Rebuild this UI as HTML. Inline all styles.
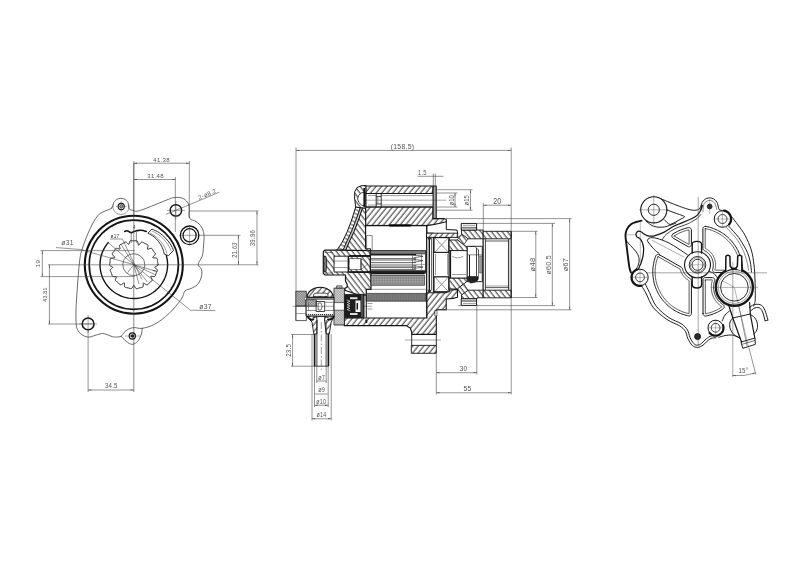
<!DOCTYPE html>
<html><head><meta charset="utf-8"><title>Vacuum pump drawing</title>
<style>
html,body{margin:0;padding:0;background:#fff;}
body{width:800px;height:568px;overflow:hidden;}
svg{display:block;font-family:"Liberation Sans",sans-serif;filter:grayscale(1);}
</style></head><body>
<svg width="800" height="568" viewBox="0 0 800 568">
<defs>
<pattern id="hA" width="4.3" height="4.3" patternUnits="userSpaceOnUse" patternTransform="rotate(39)"><line x1="1" y1="0" x2="1" y2="4.3" stroke="#262626" stroke-width="0.95"/></pattern>
<pattern id="hB" width="4.2" height="4.2" patternUnits="userSpaceOnUse" patternTransform="rotate(-38)"><line x1="1" y1="0" x2="1" y2="4.2" stroke="#262626" stroke-width="0.95"/></pattern>
<pattern id="hC" width="2" height="2" patternUnits="userSpaceOnUse" patternTransform="rotate(45)"><line x1="0" y1="0" x2="0" y2="2" stroke="#333" stroke-width="0.6"/></pattern>
<pattern id="hG" width="1.6" height="1.6" patternUnits="userSpaceOnUse"><rect width="1.6" height="1.6" fill="#a6a6a6"/><line x1="0" y1="0" x2="0" y2="1.6" stroke="#666" stroke-width="0.5"/><line x1="0" y1="0" x2="1.6" y2="0" stroke="#666" stroke-width="0.5"/></pattern>
<pattern id="hK" width="1.8" height="1.8" patternUnits="userSpaceOnUse" patternTransform="rotate(45)"><rect width="1.8" height="1.8" fill="#e4e4e4"/><line x1="0" y1="0" x2="0" y2="1.8" stroke="#555" stroke-width="0.55"/><line x1="0" y1="0" x2="1.8" y2="0" stroke="#555" stroke-width="0.55"/></pattern>
<pattern id="hG2" width="1.6" height="1.6" patternUnits="userSpaceOnUse"><rect width="1.6" height="1.6" fill="#7c7c7c"/><line x1="0" y1="0" x2="0" y2="1.6" stroke="#5a5a5a" stroke-width="0.5"/></pattern>
<pattern id="hL" width="3.8" height="3.8" patternUnits="userSpaceOnUse" patternTransform="rotate(-62)"><line x1="1" y1="0" x2="1" y2="3.8" stroke="#222" stroke-width="0.85"/></pattern>
<pattern id="hK2" width="1.8" height="1.8" patternUnits="userSpaceOnUse" patternTransform="rotate(45)"><rect width="1.8" height="1.8" fill="#c4c4c4"/><line x1="0" y1="0" x2="0" y2="1.8" stroke="#444" stroke-width="0.6"/><line x1="0" y1="0" x2="1.8" y2="0" stroke="#444" stroke-width="0.6"/></pattern>
</defs>
<rect x="0" y="0" width="800" height="568" fill="#ffffff"/>
<path d="M142.30 328.30 C142.18 329.08 141.93 331.52 141.60 333.00 C141.27 334.48 140.98 335.78 140.30 337.20 C139.62 338.62 138.67 340.33 137.50 341.50 C136.33 342.67 134.63 343.85 133.30 344.20 C131.97 344.55 130.68 344.10 129.50 343.60 C128.32 343.10 127.28 342.07 126.20 341.20 C125.12 340.33 123.83 339.23 123.00 338.40 C122.17 337.57 121.50 336.57 121.20 336.20" stroke="#3a3a3a" stroke-width="0.75" fill="none" stroke-linejoin="round" stroke-linecap="round" />
<path d="M111.50 208.20 C113.28 206.58 113.08 203.99 113.72 202.65 C114.36 201.30 114.45 201.44 115.00 200.86 C115.54 200.27 116.02 199.89 116.70 199.47 C117.39 199.06 117.95 198.81 118.72 198.60 C119.49 198.38 120.10 198.30 120.90 198.30 C121.70 198.30 122.31 198.38 123.08 198.60 C123.85 198.81 124.41 199.06 125.10 199.47 C125.78 199.89 126.26 200.27 126.80 200.86 C127.35 201.44 127.62 201.17 128.08 202.65 C128.54 204.12 128.38 207.50 129.30 208.90 C130.22 210.30 131.08 210.03 133.10 210.30 C135.12 210.58 133.81 212.42 140.30 210.40 C146.79 208.38 162.32 201.65 168.50 199.30 C174.68 196.95 171.71 197.88 174.00 197.60 C176.29 197.32 178.71 197.18 181.00 197.80 C183.29 198.42 185.00 199.31 186.50 201.00 C188.00 202.69 188.65 203.88 189.20 207.00 C189.75 210.12 188.25 215.34 189.50 218.00 C190.75 220.66 193.80 219.85 196.00 221.50 C198.20 223.15 200.03 224.53 201.50 227.00 C202.97 229.47 203.63 231.52 204.00 235.00 C204.37 238.48 203.81 242.15 203.50 246.00 C203.19 249.85 203.27 252.65 202.30 256.00 C201.33 259.36 198.35 261.82 198.20 264.30 C198.05 266.78 200.93 267.17 201.50 269.50 C202.07 271.83 202.03 274.25 201.30 277.00 C200.57 279.75 199.39 282.39 197.50 284.50 C195.61 286.61 193.29 287.31 191.00 288.50 C188.71 289.69 186.83 288.98 185.00 291.00 C183.17 293.02 183.93 295.38 181.00 299.50 C178.07 303.62 173.77 309.01 169.00 313.50 C164.23 317.99 159.90 321.29 155.00 324.00 C150.10 326.71 146.09 327.64 142.30 328.30 C138.51 328.96 136.89 327.44 134.30 327.60 C131.72 327.77 130.09 328.28 128.20 329.20 C126.31 330.12 125.28 331.32 124.00 332.60 C122.72 333.88 122.58 335.39 121.20 336.20 C119.83 337.01 118.15 336.93 116.50 337.00 C114.85 337.07 114.47 337.21 112.20 336.60 C109.93 336.00 106.52 334.14 104.10 333.70 C101.68 333.26 100.65 333.89 99.00 334.20 C97.35 334.51 97.10 334.87 95.10 335.40 C93.10 335.93 90.59 337.28 88.10 337.10 C85.61 336.92 83.44 335.79 81.50 334.40 C79.56 333.01 78.47 331.41 77.50 329.50 C76.53 327.59 76.48 327.57 76.20 324.00 C75.92 320.43 75.82 316.23 76.00 310.00 C76.18 303.77 76.56 298.80 77.20 290.00 C77.84 281.20 78.53 269.70 79.50 262.00 C80.47 254.30 80.58 254.05 82.50 248.00 C84.42 241.95 87.25 234.87 90.00 229.00 C92.75 223.13 94.93 219.21 97.50 216.00 C100.07 212.79 101.43 212.93 104.00 211.50 C106.57 210.07 109.72 209.82 111.50 208.20 Z" stroke="#3a3a3a" stroke-width="0.75" fill="none" stroke-linejoin="round" stroke-linecap="round" />
<path d="M128.88 204.99 C128.88 205.46 129.04 206.90 128.88 207.81 C128.72 208.72 128.38 209.65 127.91 210.45 C127.45 211.25 126.81 212.01 126.11 212.60 C125.40 213.20 124.54 213.70 123.67 214.01 C122.80 214.33 121.82 214.50 120.90 214.50 C119.98 214.50 119.00 214.33 118.13 214.01 C117.26 213.70 116.40 213.20 115.69 212.60 C114.99 212.01 114.35 211.25 113.89 210.45 C113.42 209.65 113.08 208.72 112.92 207.81 C112.76 206.90 112.92 205.46 112.92 204.99" stroke="#555" stroke-width="0.6" fill="none" stroke-linejoin="round" stroke-linecap="round" />
<circle cx="133.80" cy="264.70" r="49.00" stroke="#151515" stroke-width="2.1" fill="none"/>
<circle cx="133.80" cy="264.70" r="44.60" stroke="#151515" stroke-width="1.7" fill="none"/>
<path d="M108.21 242.61 L106.76 244.42 L105.43 246.33 L104.23 248.32 L103.18 250.39 L102.27 252.53 L101.50 254.73 L100.90 256.97 L100.44 259.25 L100.15 261.56 L100.01 263.88 L100.03 266.20 L100.22 268.52 L100.56 270.82 L101.06 273.09 L101.71 275.32 L102.52 277.50 L103.47 279.62 L104.57 281.66 L105.80 283.63 L107.17 285.51 L108.66 287.29 L110.27 288.97 L112.00 290.53 L113.82 291.96 L115.74 293.27 L117.75 294.45 L119.83 295.48 L121.98 296.37 L124.18 297.10 L126.43 297.69 L128.72 298.12 L131.03 298.39 L133.35 298.50 L135.67 298.45 L137.99 298.24 L140.28 297.87 L142.55 297.35 L144.77 296.67 L146.94 295.84 L149.05 294.86 L151.09 293.75 L153.04 292.49 L154.91 291.10 L156.67 289.59 L158.33 287.96 L159.87 286.22 L161.28 284.37 L162.57 282.44 L163.72 280.42 L164.73 278.33 L165.59 276.17 L166.31 273.96 L166.87 271.70 L167.27 269.41 L167.51 267.10 L167.60 264.78 L167.53 262.46 L167.29 260.14 L166.90 257.85 L166.35 255.59" stroke="#151515" stroke-width="1.4" fill="none" stroke-linejoin="round" stroke-linecap="round" />
<path d="M152.30 229.20 C153.50 229.80 157.28 231.30 159.50 232.80 C161.72 234.30 163.80 236.33 165.60 238.20 C167.40 240.07 168.97 241.97 170.30 244.00 C171.63 246.03 173.05 249.33 173.60 250.40 L168.6 255.6 L164.4 254.3 164.40 254.30 C164.05 253.18 163.23 249.68 162.30 247.60 C161.37 245.52 160.18 243.60 158.80 241.80 C157.42 240.00 155.75 238.20 154.00 236.80 C152.25 235.40 149.25 233.97 148.30 233.40 Z" stroke="#151515" stroke-width="0.9" fill="none" stroke-linejoin="round" stroke-linecap="round" />
<path d="M152.60 231.30 C153.60 231.85 156.70 233.23 158.60 234.60 C160.50 235.97 162.40 237.77 164.00 239.50 C165.60 241.23 167.00 243.12 168.20 245.00 C169.40 246.88 170.70 249.83 171.20 250.80" stroke="#3a3a3a" stroke-width="0.5" fill="none" stroke-linejoin="round" stroke-linecap="round" />
<path d="M150.20 233.20 C151.10 233.75 153.87 235.15 155.60 236.50 C157.33 237.85 159.12 239.55 160.60 241.30 C162.08 243.05 163.47 245.02 164.50 247.00 C165.53 248.98 166.42 252.17 166.80 253.20" stroke="#3a3a3a" stroke-width="0.5" fill="none" stroke-linejoin="round" stroke-linecap="round" />
<path d="M158.04 264.70 L158.01 264.91 L157.93 265.12 L157.81 265.33 L157.63 265.53 L157.39 265.73 L157.09 265.92 L156.73 266.10 L156.34 266.28 L155.93 266.44 L155.53 266.60 L155.18 266.76 L154.90 266.92 L154.72 267.08 L154.66 267.26 L154.71 267.45 L154.88 267.66 L155.14 267.89 L155.46 268.13 L155.81 268.38 L156.17 268.64 L156.50 268.91 L156.78 269.17 L157.01 269.42 L157.18 269.67 L157.29 269.91 L157.34 270.14 L157.35 270.35 L157.32 270.57 L157.27 270.77 L157.19 270.97 L157.11 271.16 L157.01 271.36 L156.92 271.55 L156.82 271.74 L156.72 271.93 L156.62 272.11 L156.53 272.30 L156.44 272.49 L156.35 272.68 L156.27 272.88 L156.19 273.07 L156.11 273.27 L156.04 273.46 L155.98 273.66 L155.92 273.86 L155.86 274.06 L155.80 274.27 L155.75 274.47 L155.70 274.68 L155.65 274.89 L155.59 275.09 L155.53 275.30 L155.47 275.50 L155.39 275.70 L155.29 275.89 L155.17 276.06 L155.01 276.22 L154.81 276.35 L154.56 276.45 L154.25 276.51 L153.89 276.54 L153.48 276.52 L153.03 276.48 L152.56 276.42 L152.09 276.35 L151.66 276.30 L151.29 276.27 L151.00 276.30 L150.82 276.40 L150.75 276.57 L150.78 276.81 L150.90 277.12 L151.08 277.49 L151.30 277.89 L151.53 278.31 L151.75 278.72 L151.92 279.12 L152.05 279.48 L152.13 279.81 L152.15 280.10 L152.12 280.35 L152.05 280.56 L151.94 280.75 L151.81 280.92 L151.66 281.07 L151.50 281.20 L151.33 281.33 L151.15 281.46 L150.98 281.58 L150.80 281.70 L150.63 281.82 L150.45 281.95 L150.28 282.07 L150.12 282.20 L149.95 282.33 L149.79 282.46 L149.64 282.60 L149.48 282.74 L149.33 282.88 L149.18 283.03 L149.04 283.18 L148.89 283.34 L148.75 283.49 L148.61 283.65 L148.46 283.81 L148.32 283.97 L148.18 284.13 L148.03 284.28 L147.87 284.43 L147.70 284.56 L147.52 284.67 L147.32 284.75 L147.10 284.79 L146.85 284.79 L146.57 284.74 L146.25 284.63 L145.91 284.47 L145.55 284.25 L145.17 284.01 L144.80 283.75 L144.44 283.50 L144.11 283.30 L143.83 283.17 L143.60 283.14 L143.43 283.21 L143.32 283.39 L143.26 283.68 L143.23 284.04 L143.23 284.47 L143.23 284.92 L143.22 285.38 L143.20 285.80 L143.14 286.19 L143.06 286.52 L142.95 286.80 L142.82 287.02 L142.66 287.19 L142.48 287.31 L142.29 287.40 L142.09 287.47 L141.88 287.52 L141.67 287.56 L141.46 287.59 L141.25 287.62 L141.03 287.64 L140.82 287.67 L140.61 287.70 L140.40 287.73 L140.20 287.76 L139.99 287.80 L139.79 287.84 L139.58 287.89 L139.38 287.94 L139.18 288.00 L138.98 288.06 L138.78 288.12 L138.58 288.19 L138.38 288.26 L138.18 288.33 L137.98 288.41 L137.78 288.48 L137.58 288.56 L137.38 288.62 L137.17 288.68 L136.96 288.72 L136.75 288.74 L136.54 288.73 L136.32 288.68 L136.10 288.57 L135.87 288.40 L135.65 288.16 L135.42 287.86 L135.19 287.49 L134.97 287.08 L134.76 286.65 L134.55 286.22 L134.35 285.84 L134.16 285.54 L133.98 285.34 L133.80 285.28 L133.62 285.34 L133.44 285.54 L133.25 285.84 L133.05 286.22 L132.84 286.65 L132.63 287.08 L132.41 287.49 L132.18 287.86 L131.95 288.16 L131.73 288.40 L131.50 288.57 L131.28 288.68 L131.06 288.73 L130.85 288.74 L130.64 288.72 L130.43 288.68 L130.22 288.62 L130.02 288.56 L129.82 288.48 L129.62 288.41 L129.42 288.33 L129.22 288.26 L129.02 288.19 L128.82 288.12 L128.62 288.06 L128.42 288.00 L128.22 287.94 L128.02 287.89 L127.81 287.84 L127.61 287.80 L127.40 287.76 L127.20 287.73 L126.99 287.70 L126.78 287.67 L126.57 287.64 L126.35 287.62 L126.14 287.59 L125.93 287.56 L125.72 287.52 L125.51 287.47 L125.31 287.40 L125.13 287.30 L124.95 287.16 L124.80 286.98 L124.67 286.75 L124.56 286.46 L124.49 286.10 L124.45 285.69 L124.44 285.23 L124.45 284.75 L124.47 284.27 L124.48 283.82 L124.46 283.43 L124.41 283.13 L124.31 282.94 L124.14 282.87 L123.91 282.91 L123.62 283.06 L123.28 283.29 L122.91 283.56 L122.52 283.85 L122.13 284.13 L121.75 284.37 L121.39 284.56 L121.07 284.69 L120.78 284.75 L120.52 284.77 L120.29 284.73 L120.09 284.66 L119.90 284.55 L119.73 284.42 L119.57 284.28 L119.42 284.13 L119.28 283.97 L119.14 283.81 L118.99 283.65 L118.85 283.49 L118.71 283.34 L118.56 283.18 L118.42 283.03 L118.27 282.88 L118.12 282.74 L117.96 282.60 L117.81 282.46 L117.65 282.33 L117.48 282.20 L117.32 282.07 L117.15 281.95 L116.97 281.82 L116.80 281.70 L116.62 281.58 L116.45 281.46 L116.27 281.33 L116.10 281.21 L115.93 281.07 L115.78 280.93 L115.64 280.77 L115.52 280.59 L115.44 280.38 L115.39 280.15 L115.38 279.88 L115.42 279.58 L115.51 279.25 L115.64 278.89 L115.81 278.51 L115.98 278.13 L116.15 277.76 L116.29 277.42 L116.38 277.13 L116.39 276.89 L116.31 276.72 L116.13 276.62 L115.87 276.57 L115.54 276.56 L115.15 276.58 L114.74 276.61 L114.32 276.64 L113.91 276.65 L113.55 276.63 L113.22 276.58 L112.95 276.50 L112.73 276.38 L112.55 276.24 L112.40 276.08 L112.29 275.90 L112.20 275.71 L112.12 275.51 L112.06 275.30 L112.01 275.10 L111.95 274.89 L111.90 274.68 L111.85 274.47 L111.80 274.27 L111.74 274.06 L111.68 273.86 L111.62 273.66 L111.56 273.46 L111.49 273.27 L111.41 273.07 L111.33 272.88 L111.25 272.68 L111.16 272.49 L111.07 272.30 L110.98 272.11 L110.88 271.93 L110.78 271.74 L110.68 271.55 L110.59 271.36 L110.49 271.16 L110.40 270.97 L110.33 270.77 L110.27 270.57 L110.23 270.36 L110.23 270.14 L110.28 269.91 L110.37 269.68 L110.52 269.44 L110.73 269.18 L110.99 268.93 L111.29 268.67 L111.62 268.41 L111.94 268.16 L112.24 267.92 L112.47 267.70 L112.62 267.49 L112.67 267.29 L112.61 267.11 L112.45 266.94 L112.19 266.78 L111.86 266.62 L111.49 266.46 L111.11 266.29 L110.74 266.11 L110.42 265.93 L110.14 265.73 L109.92 265.53 L109.75 265.33 L109.64 265.12 L109.58 264.91 L109.55 264.70 L109.55 264.49 L109.57 264.28 L109.61 264.07 L109.65 263.86 L109.70 263.65 L109.75 263.44 L109.80 263.23 L109.85 263.03 L109.90 262.82 L109.94 262.61 L109.98 262.41 L110.02 262.20 L110.05 261.99 L110.08 261.79 L110.10 261.58 L110.12 261.37 L110.13 261.16 L110.14 260.95 L110.15 260.74 L110.15 260.53 L110.15 260.32 L110.15 260.10 L110.15 259.89 L110.16 259.67 L110.17 259.46 L110.20 259.25 L110.25 259.05 L110.32 258.85 L110.43 258.66 L110.59 258.48 L110.81 258.32 L111.09 258.19 L111.45 258.08 L111.86 257.99 L112.33 257.93 L112.84 257.89 L113.35 257.86 L113.83 257.82 L114.25 257.78 L114.57 257.70 L114.77 257.59 L114.84 257.42 L114.77 257.21 L114.59 256.94 L114.32 256.63 L113.98 256.29 L113.62 255.93 L113.27 255.56 L112.96 255.20 L112.69 254.86 L112.50 254.54 L112.37 254.25 L112.31 253.98 L112.30 253.75 L112.34 253.53 L112.41 253.33 L112.51 253.14 L112.63 252.97 L112.76 252.80 L112.90 252.63 L113.04 252.47 L113.18 252.31 L113.32 252.15 L113.46 251.99 L113.60 251.83 L113.73 251.67 L113.86 251.50 L113.98 251.33 L114.10 251.16 L114.22 250.99 L114.33 250.82 L114.44 250.64 L114.55 250.46 L114.66 250.27 L114.76 250.09 L114.86 249.90 L114.96 249.71 L115.06 249.52 L115.16 249.33 L115.27 249.15 L115.38 248.97 L115.50 248.80 L115.65 248.64 L115.81 248.50 L116.00 248.39 L116.23 248.31 L116.50 248.28 L116.81 248.29 L117.16 248.34 L117.54 248.44 L117.95 248.57 L118.37 248.72 L118.78 248.87 L119.15 248.99 L119.47 249.06 L119.72 249.06 L119.89 248.98 L119.98 248.81 L120.00 248.54 L119.96 248.21 L119.88 247.82 L119.78 247.39 L119.69 246.96 L119.61 246.54 L119.57 246.15 L119.56 245.80 L119.59 245.50 L119.67 245.25 L119.77 245.04 L119.91 244.86 L120.07 244.72 L120.24 244.60 L120.43 244.50 L120.63 244.41 L120.82 244.33 L121.02 244.25 L121.22 244.18 L121.42 244.10 L121.62 244.02 L121.82 243.94 L122.01 243.86 L122.20 243.78 L122.39 243.69 L122.58 243.60 L122.76 243.50 L122.95 243.40 L123.13 243.29 L123.31 243.19 L123.48 243.07 L123.66 242.96 L123.84 242.84 L124.01 242.72 L124.19 242.60 L124.37 242.48 L124.55 242.36 L124.73 242.25 L124.92 242.15 L125.11 242.07 L125.32 242.01 L125.53 241.98 L125.76 242.00 L126.01 242.07 L126.27 242.20 L126.55 242.39 L126.84 242.63 L127.14 242.92 L127.44 243.24 L127.74 243.56 L128.02 243.86 L128.28 244.10 L128.51 244.25 L128.71 244.30 L128.89 244.23 L129.03 244.05 L129.16 243.77 L129.28 243.41 L129.39 243.00 L129.50 242.58 L129.62 242.16 L129.76 241.78 L129.91 241.45 L130.07 241.18 L130.25 240.97 L130.44 240.81 L130.64 240.71 L130.85 240.64 L131.06 240.61 L131.27 240.60 L131.48 240.61 L131.69 240.62 L131.91 240.65 L132.12 240.67 L132.33 240.70 L132.54 240.72 L132.75 240.75 L132.96 240.76 L133.17 240.78 L133.38 240.79 L133.59 240.80 L133.80 240.80 L134.01 240.80 L134.22 240.79 L134.43 240.78 L134.64 240.76 L134.85 240.75 L135.06 240.72 L135.27 240.70 L135.48 240.67 L135.69 240.65 L135.91 240.63 L136.12 240.62 L136.33 240.62 L136.54 240.64 L136.75 240.68 L136.95 240.77 L137.14 240.91 L137.33 241.10 L137.50 241.37 L137.65 241.71 L137.78 242.12 L137.90 242.59 L138.00 243.10 L138.09 243.63 L138.17 244.12 L138.26 244.56 L138.37 244.90 L138.50 245.11 L138.67 245.18 L138.87 245.11 L139.10 244.90 L139.38 244.59 L139.68 244.21 L139.99 243.79 L140.32 243.37 L140.65 242.99 L140.96 242.66 L141.26 242.40 L141.54 242.22 L141.80 242.10 L142.04 242.05 L142.27 242.05 L142.48 242.09 L142.68 242.17 L142.87 242.26 L143.05 242.36 L143.23 242.48 L143.41 242.60 L143.59 242.72 L143.76 242.84 L143.94 242.96 L144.12 243.07 L144.29 243.19 L144.47 243.29 L144.65 243.40 L144.84 243.50 L145.02 243.60 L145.21 243.69 L145.40 243.78 L145.59 243.86 L145.78 243.94 L145.98 244.02 L146.18 244.10 L146.38 244.18 L146.58 244.25 L146.78 244.33 L146.97 244.41 L147.17 244.50 L147.35 244.61 L147.53 244.73 L147.68 244.88 L147.81 245.05 L147.91 245.27 L147.98 245.54 L148.00 245.85 L147.98 246.22 L147.92 246.63 L147.83 247.07 L147.71 247.52 L147.60 247.96 L147.50 248.37 L147.45 248.72 L147.45 248.99 L147.54 249.17 L147.71 249.25 L147.97 249.24 L148.30 249.15 L148.69 249.01 L149.11 248.84 L149.55 248.67 L149.98 248.52 L150.38 248.41 L150.75 248.34 L151.07 248.31 L151.35 248.34 L151.58 248.41 L151.78 248.51 L151.95 248.64 L152.09 248.80 L152.22 248.97 L152.33 249.15 L152.44 249.33 L152.54 249.52 L152.64 249.71 L152.74 249.90 L152.84 250.09 L152.94 250.27 L153.05 250.46 L153.16 250.64 L153.27 250.82 L153.38 250.99 L153.50 251.16 L153.62 251.33 L153.74 251.50 L153.87 251.67 L154.00 251.83 L154.14 251.99 L154.28 252.15 L154.42 252.31 L154.56 252.47 L154.70 252.63 L154.84 252.80 L154.97 252.97 L155.09 253.14 L155.19 253.33 L155.26 253.53 L155.30 253.75 L155.29 253.98 L155.23 254.25 L155.10 254.54 L154.91 254.86 L154.65 255.20 L154.33 255.56 L153.98 255.93 L153.62 256.29 L153.28 256.63 L153.01 256.94 L152.83 257.21 L152.76 257.42 L152.83 257.58 L153.03 257.70 L153.35 257.78 L153.77 257.82 L154.25 257.86 L154.76 257.89 L155.27 257.93 L155.74 257.99 L156.15 258.08 L156.51 258.19 L156.79 258.32 L157.01 258.48 L157.17 258.66 L157.28 258.85 L157.35 259.05 L157.40 259.25 L157.43 259.46 L157.44 259.67 L157.45 259.89 L157.45 260.10 L157.45 260.32 L157.45 260.53 L157.45 260.74 L157.46 260.95 L157.47 261.16 L157.48 261.37 L157.50 261.58 L157.52 261.79 L157.55 261.99 L157.58 262.20 L157.62 262.41 L157.66 262.61 L157.70 262.82 L157.75 263.03 L157.80 263.23 L157.85 263.44 L157.90 263.65 L157.95 263.86 L157.99 264.07 L158.02 264.28 L158.04 264.49 Z" stroke="#151515" stroke-width="1.0" fill="none" stroke-linejoin="round" stroke-linecap="round" />
<circle cx="133.80" cy="264.70" r="11.00" stroke="#3a3a3a" stroke-width="0.7" fill="none"/>
<path d="M124.8 231.5 q2 -1.5 4 0 q2 2 4.5 0.3 l4 -1.2 q4 -1 9 0.8" stroke="#151515" stroke-width="1.6" fill="none" stroke-linejoin="round" stroke-linecap="round" />
<line x1="131.20" y1="231.80" x2="131.20" y2="243.00" stroke="#3a3a3a" stroke-width="0.6" />
<line x1="136.40" y1="231.80" x2="136.40" y2="243.00" stroke="#3a3a3a" stroke-width="0.6" />
<text transform="translate(134.30 228.50)" x="0" y="0" font-size="4.5" fill="#555" text-anchor="middle" letter-spacing="0.3" >4</text>
<line x1="40.60" y1="250.60" x2="134.80" y2="250.60" stroke="#3a3a3a" stroke-width="0.55" />
<line x1="48.00" y1="264.80" x2="258.50" y2="264.80" stroke="#3a3a3a" stroke-width="0.55" />
<line x1="40.60" y1="276.60" x2="134.80" y2="276.60" stroke="#3a3a3a" stroke-width="0.55" />
<line x1="133.80" y1="163.00" x2="133.80" y2="392.00" stroke="#3a3a3a" stroke-width="0.6" />
<path d="M56.40 247.60 L80.70 249.50 L133.80 264.70 L157.00 271.50" stroke="#3a3a3a" stroke-width="0.55" fill="none" stroke-linejoin="round" stroke-linecap="round" />
<path d="M157.00 271.50 L152.99 270.97 L153.32 269.82 Z" fill="#3a3a3a" stroke="none"/>
<text transform="translate(67.50 245.00) scale(0.85 1)" x="0" y="0" font-size="8" fill="#555" text-anchor="middle" letter-spacing="0.3" >ø31</text>
<path d="M108.20 242.60 L133.80 264.70 L190.50 310.20 L215.00 310.60" stroke="#3a3a3a" stroke-width="0.55" fill="none" stroke-linejoin="round" stroke-linecap="round" />
<text transform="translate(205.60 309.20) scale(0.85 1)" x="0" y="0" font-size="8" fill="#555" text-anchor="middle" letter-spacing="0.3" >ø37</text>
<path d="M110.50 239.00 L122.40 239.00 L141.60 279.00" stroke="#3a3a3a" stroke-width="0.55" fill="none" stroke-linejoin="round" stroke-linecap="round" />
<text transform="translate(115.00 238.00)" x="0" y="0" font-size="4.6" fill="#333" text-anchor="middle" letter-spacing="0.3" >ø17</text>
<line x1="133.80" y1="264.70" x2="147.34" y2="282.04" stroke="#3a3a3a" stroke-width="0.55" />
<line x1="133.80" y1="264.70" x2="138.98" y2="284.02" stroke="#3a3a3a" stroke-width="0.55" />
<line x1="133.80" y1="264.70" x2="121.08" y2="244.35" stroke="#3a3a3a" stroke-width="0.55" />
<line x1="133.80" y1="264.70" x2="155.55" y2="274.84" stroke="#3a3a3a" stroke-width="0.55" />
<line x1="133.80" y1="264.70" x2="127.64" y2="272.58" stroke="#3a3a3a" stroke-width="0.55" />
<circle cx="121.20" cy="206.50" r="3.10" stroke="#151515" stroke-width="1.1" fill="none"/>
<circle cx="121.20" cy="206.50" r="1.50" stroke="#151515" stroke-width="0.8" fill="none"/>
<line x1="121.20" y1="201.00" x2="121.20" y2="212.00" stroke="#3a3a3a" stroke-width="0.4" />
<line x1="116.00" y1="206.50" x2="126.50" y2="206.50" stroke="#3a3a3a" stroke-width="0.4" />
<circle cx="175.90" cy="210.40" r="5.70" stroke="#151515" stroke-width="1.4" fill="none"/>
<line x1="166.90" y1="210.40" x2="184.90" y2="210.40" stroke="#3a3a3a" stroke-width="0.45" />
<line x1="175.90" y1="201.40" x2="175.90" y2="219.40" stroke="#3a3a3a" stroke-width="0.45" />
<circle cx="189.60" cy="235.30" r="9.30" stroke="#151515" stroke-width="1.4" fill="none"/>
<circle cx="189.60" cy="235.30" r="6.60" stroke="#151515" stroke-width="1.3" fill="none"/>
<line x1="180.60" y1="235.30" x2="198.60" y2="235.30" stroke="#3a3a3a" stroke-width="0.45" />
<line x1="189.60" y1="226.30" x2="189.60" y2="244.30" stroke="#3a3a3a" stroke-width="0.45" />
<circle cx="88.10" cy="323.90" r="5.90" stroke="#151515" stroke-width="1.5" fill="none"/>
<line x1="79.10" y1="323.90" x2="97.10" y2="323.90" stroke="#3a3a3a" stroke-width="0.45" />
<line x1="88.10" y1="314.90" x2="88.10" y2="332.90" stroke="#3a3a3a" stroke-width="0.45" />
<circle cx="132.30" cy="336.00" r="3.10" stroke="#151515" stroke-width="1.2" fill="none"/>
<circle cx="132.30" cy="336.00" r="1.30" stroke="#151515" stroke-width="1.0" fill="#333"/>
<line x1="125.00" y1="336.00" x2="140.00" y2="336.00" stroke="#3a3a3a" stroke-width="0.4" />
<line x1="133.80" y1="161.00" x2="133.80" y2="215.00" stroke="#3a3a3a" stroke-width="0.55" />
<line x1="189.30" y1="161.00" x2="189.30" y2="218.00" stroke="#3a3a3a" stroke-width="0.55" />
<line x1="175.30" y1="177.00" x2="175.30" y2="232.00" stroke="#3a3a3a" stroke-width="0.55" />
<line x1="133.80" y1="163.20" x2="189.30" y2="163.20" stroke="#3a3a3a" stroke-width="0.55" />
<path d="M133.80 163.20 L137.00 162.75 L137.00 163.65 Z" fill="#3a3a3a" stroke="none"/>
<path d="M189.30 163.20 L186.10 163.65 L186.10 162.75 Z" fill="#3a3a3a" stroke="none"/>
<text transform="translate(161.50 161.60)" x="0" y="0" font-size="6" fill="#555" text-anchor="middle" letter-spacing="0.3" >41.38</text>
<line x1="133.80" y1="179.50" x2="175.50" y2="179.50" stroke="#3a3a3a" stroke-width="0.55" />
<path d="M133.80 179.50 L137.00 179.05 L137.00 179.95 Z" fill="#3a3a3a" stroke="none"/>
<path d="M175.50 179.50 L172.30 179.95 L172.30 179.05 Z" fill="#3a3a3a" stroke="none"/>
<text transform="translate(155.50 177.60)" x="0" y="0" font-size="6" fill="#555" text-anchor="middle" letter-spacing="0.3" >31.48</text>
<line x1="166.00" y1="214.40" x2="219.40" y2="192.20" stroke="#3a3a3a" stroke-width="0.55" />
<text transform="translate(208.00 196.00) rotate(-22.6)" x="0" y="0" font-size="6" fill="#555" text-anchor="middle" letter-spacing="0.3" >2-ø8.2</text>
<line x1="190.00" y1="211.00" x2="258.50" y2="211.00" stroke="#3a3a3a" stroke-width="0.55" />
<line x1="199.00" y1="235.30" x2="240.50" y2="235.30" stroke="#3a3a3a" stroke-width="0.55" />
<line x1="257.00" y1="211.00" x2="257.00" y2="264.80" stroke="#3a3a3a" stroke-width="0.55" />
<path d="M257.00 211.00 L257.45 214.20 L256.55 214.20 Z" fill="#3a3a3a" stroke="none"/>
<path d="M257.00 264.80 L256.55 261.60 L257.45 261.60 Z" fill="#3a3a3a" stroke="none"/>
<text transform="translate(255.20 238.00) rotate(-90) scale(0.92 1)" x="0" y="0" font-size="6.6" fill="#555" text-anchor="middle" letter-spacing="0.3" >39.96</text>
<line x1="238.40" y1="235.30" x2="238.40" y2="264.80" stroke="#3a3a3a" stroke-width="0.55" />
<path d="M238.40 235.30 L238.85 238.50 L237.95 238.50 Z" fill="#3a3a3a" stroke="none"/>
<path d="M238.40 264.80 L237.95 261.60 L238.85 261.60 Z" fill="#3a3a3a" stroke="none"/>
<text transform="translate(236.60 250.00) rotate(-90) scale(0.85 1)" x="0" y="0" font-size="6.6" fill="#555" text-anchor="middle" letter-spacing="0.3" >21.63</text>
<line x1="42.30" y1="250.60" x2="42.30" y2="276.60" stroke="#3a3a3a" stroke-width="0.55" />
<path d="M42.30 250.60 L42.75 253.80 L41.85 253.80 Z" fill="#3a3a3a" stroke="none"/>
<path d="M42.30 276.60 L41.85 273.40 L42.75 273.40 Z" fill="#3a3a3a" stroke="none"/>
<text transform="translate(40.00 263.50) rotate(-90)" x="0" y="0" font-size="6" fill="#555" text-anchor="middle" letter-spacing="0.3" >19</text>
<line x1="49.40" y1="264.80" x2="49.40" y2="324.00" stroke="#3a3a3a" stroke-width="0.55" />
<path d="M49.40 264.80 L49.85 268.00 L48.95 268.00 Z" fill="#3a3a3a" stroke="none"/>
<path d="M49.40 324.00 L48.95 320.80 L49.85 320.80 Z" fill="#3a3a3a" stroke="none"/>
<text transform="translate(47.20 294.50) rotate(-90) scale(0.85 1)" x="0" y="0" font-size="6.2" fill="#555" text-anchor="middle" letter-spacing="0.3" >43.81</text>
<line x1="48.00" y1="324.00" x2="93.00" y2="324.00" stroke="#3a3a3a" stroke-width="0.55" />
<line x1="88.10" y1="330.00" x2="88.10" y2="392.00" stroke="#3a3a3a" stroke-width="0.55" />
<line x1="88.10" y1="390.00" x2="133.80" y2="390.00" stroke="#3a3a3a" stroke-width="0.55" />
<path d="M88.10 390.00 L91.30 389.55 L91.30 390.45 Z" fill="#3a3a3a" stroke="none"/>
<path d="M133.80 390.00 L130.60 390.45 L130.60 389.55 Z" fill="#3a3a3a" stroke="none"/>
<text transform="translate(111.30 388.40) scale(0.76 1)" x="0" y="0" font-size="8" fill="#555" text-anchor="middle" letter-spacing="0.3" >34.5</text>
<path d="M365.60 186.00 L433.00 186.00 L433.00 193.50 L365.60 193.50 Z" stroke="none" stroke-width="0" fill="#fff" stroke-linejoin="round" stroke-linecap="round" />
<path d="M365.60 186.00 L433.00 186.00 L433.00 193.50 L365.60 193.50 Z" stroke="#151515" stroke-width="1.1" fill="url(#hA)" stroke-linejoin="round" stroke-linecap="round" />
<path d="M365.60 207.00 L433.00 207.00 L433.00 218.60 L444.00 218.60 L446.30 219.60 L446.30 221.80 L440.00 223.20 L433.00 224.60 L426.60 225.60 L365.60 225.60 Z" stroke="none" stroke-width="0" fill="#fff" stroke-linejoin="round" stroke-linecap="round" />
<path d="M365.60 207.00 L433.00 207.00 L433.00 218.60 L444.00 218.60 L446.30 219.60 L446.30 221.80 L440.00 223.20 L433.00 224.60 L426.60 225.60 L365.60 225.60 Z" stroke="#151515" stroke-width="1.1" fill="url(#hA)" stroke-linejoin="round" stroke-linecap="round" />
<path d="M433.10 186.00 L436.20 186.00 L436.20 218.60 L433.10 218.60 Z" stroke="#151515" stroke-width="1.1" fill="#aaa" stroke-linejoin="round" stroke-linecap="round" />
<line x1="365.60" y1="193.50" x2="433.00" y2="193.50" stroke="#151515" stroke-width="0.9" />
<line x1="365.60" y1="207.00" x2="433.00" y2="207.00" stroke="#151515" stroke-width="0.9" />
<line x1="376.20" y1="193.50" x2="376.20" y2="207.00" stroke="#151515" stroke-width="0.9" />
<line x1="381.20" y1="193.80" x2="381.20" y2="206.60" stroke="#151515" stroke-width="0.9" />
<line x1="376.20" y1="196.40" x2="381.20" y2="196.40" stroke="#151515" stroke-width="0.8" />
<line x1="376.20" y1="204.00" x2="381.20" y2="204.00" stroke="#151515" stroke-width="0.8" />
<line x1="377.80" y1="196.40" x2="377.80" y2="204.00" stroke="#3a3a3a" stroke-width="0.6" />
<line x1="368.00" y1="195.50" x2="376.00" y2="195.50" stroke="#3a3a3a" stroke-width="0.5" />
<line x1="368.00" y1="205.00" x2="376.00" y2="205.00" stroke="#3a3a3a" stroke-width="0.5" />
<line x1="381.20" y1="195.60" x2="433.00" y2="195.60" stroke="#3a3a3a" stroke-width="0.5" />
<line x1="381.20" y1="204.90" x2="433.00" y2="204.90" stroke="#3a3a3a" stroke-width="0.5" />
<line x1="360.00" y1="200.20" x2="446.00" y2="200.20" stroke="#3a3a3a" stroke-width="0.45" />
<path d="M365.60 185.60 L361.00 185.80 L357.00 187.60 L354.80 191.50 L354.60 198.00 L355.30 204.00 L355.60 207.30 L361.90 208.20 L365.60 208.20 Z" stroke="none" stroke-width="0" fill="#fff" stroke-linejoin="round" stroke-linecap="round" />
<path d="M365.60 185.60 L361.00 185.80 L357.00 187.60 L354.80 191.50 L354.60 198.00 L355.30 204.00 L355.60 207.30 L361.90 208.20 L365.60 208.20 Z" stroke="#151515" stroke-width="1.0" fill="url(#hB)" stroke-linejoin="round" stroke-linecap="round" />
<path d="M365.0 192.5 L361.5 192.8 Q357.6 195 357.6 199 Q358.2 203 361.8 205.3 L365.0 205.8 Z" stroke="#151515" stroke-width="0.8" fill="#fff" stroke-linejoin="round" stroke-linecap="round" />
<line x1="364.20" y1="188.00" x2="364.20" y2="207.00" stroke="#151515" stroke-width="1.6" />
<path d="M355.60 207.30 L351.30 221.10 L347.20 231.70 L342.20 242.20 L338.40 248.00 L336.60 250.20 L343.20 250.20 L346.60 242.20 L351.50 231.70 L355.60 221.10 L360.20 208.20 Z" stroke="none" stroke-width="0" fill="#fff" stroke-linejoin="round" stroke-linecap="round" />
<path d="M355.60 207.30 L351.30 221.10 L347.20 231.70 L342.20 242.20 L338.40 248.00 L336.60 250.20 L343.20 250.20 L346.60 242.20 L351.50 231.70 L355.60 221.10 L360.20 208.20 Z" stroke="#151515" stroke-width="1.0" fill="url(#hL)" stroke-linejoin="round" stroke-linecap="round" />
<path d="M360.20 208.20 L355.60 221.10 L351.50 231.70 L346.60 242.20 L343.20 250.20 L345.80 250.20 L349.20 242.20 L354.10 231.70 L358.20 221.10 L362.80 208.20 Z" stroke="#151515" stroke-width="0.8" fill="#c4c4c4" stroke-linejoin="round" stroke-linecap="round" />
<path d="M362.80 208.20 L365.60 208.20 L365.60 248.80 L370.50 248.80 L370.50 250.60 L345.80 250.60 L345.80 250.20 L349.20 242.20 L354.10 231.70 L358.20 221.10 Z" stroke="none" stroke-width="0" fill="#fff" stroke-linejoin="round" stroke-linecap="round" />
<path d="M362.80 208.20 L365.60 208.20 L365.60 248.80 L370.50 248.80 L370.50 250.60 L345.80 250.60 L345.80 250.20 L349.20 242.20 L354.10 231.70 L358.20 221.10 Z" stroke="#151515" stroke-width="1.0" fill="url(#hB)" stroke-linejoin="round" stroke-linecap="round" />
<path d="M336.60 250.20 L325.00 250.00 L323.30 251.60 L323.30 273.40 L325.00 275.00 L345.50 275.00 L345.50 281.00 L347.20 284.50 L347.20 287.00 L344.80 288.60 L344.80 290.30 L358.00 294.80 L366.30 295.20 L366.30 289.30 L371.00 289.30 L371.00 250.60 Z" stroke="none" stroke-width="0" fill="#fff" stroke-linejoin="round" stroke-linecap="round" />
<path d="M336.60 250.20 L325.00 250.00 L323.30 251.60 L323.30 273.40 L325.00 275.00 L345.50 275.00 L345.50 281.00 L347.20 284.50 L347.20 287.00 L344.80 288.60 L344.80 290.30 L358.00 294.80 L366.30 295.20 L366.30 289.30 L371.00 289.30 L371.00 250.60 Z" stroke="#151515" stroke-width="1.2" fill="url(#hB)" stroke-linejoin="round" stroke-linecap="round" />
<path d="M334.40 256.20 L370.50 256.20 L370.50 272.00 L334.40 272.00 Z" stroke="#151515" stroke-width="0.9" fill="#fff" stroke-linejoin="round" stroke-linecap="round" />
<path d="M348.50 256.20 L370.50 256.20 L370.50 272.00 L348.50 272.00 Z" stroke="#151515" stroke-width="0.9" fill="url(#hB)" stroke-linejoin="round" stroke-linecap="round" />
<path d="M349.50 258.60 L361.00 258.60 L361.00 269.60 L349.50 269.60 Z" stroke="#151515" stroke-width="0.6" fill="#fff" stroke-linejoin="round" stroke-linecap="round" />
<line x1="361.00" y1="258.60" x2="368.00" y2="264.00" stroke="#3a3a3a" stroke-width="0.5" />
<line x1="361.00" y1="269.60" x2="368.00" y2="264.00" stroke="#3a3a3a" stroke-width="0.5" />
<line x1="361.00" y1="258.60" x2="361.00" y2="269.60" stroke="#151515" stroke-width="0.8" />
<line x1="348.50" y1="256.20" x2="348.50" y2="272.00" stroke="#151515" stroke-width="1.0" />
<line x1="349.50" y1="255.80" x2="370.80" y2="255.80" stroke="#151515" stroke-width="1.5" />
<line x1="349.50" y1="272.20" x2="370.80" y2="272.20" stroke="#151515" stroke-width="1.5" />
<line x1="370.40" y1="250.60" x2="370.40" y2="273.00" stroke="#151515" stroke-width="1.4" />
<line x1="334.40" y1="261.00" x2="348.50" y2="261.00" stroke="#3a3a3a" stroke-width="0.5" />
<line x1="334.40" y1="267.50" x2="348.50" y2="267.50" stroke="#3a3a3a" stroke-width="0.5" />
<path d="M324.3 256.4 L326 256.4 Q327.6 264 326 271.6 L324.3 271.6 Z" stroke="#151515" stroke-width="0.8" fill="#777" stroke-linejoin="round" stroke-linecap="round" />
<line x1="324.50" y1="252.50" x2="333.00" y2="252.50" stroke="#3a3a3a" stroke-width="0.6" />
<line x1="324.50" y1="273.00" x2="333.00" y2="273.00" stroke="#3a3a3a" stroke-width="0.6" />
<line x1="365.60" y1="225.40" x2="426.50" y2="225.40" stroke="#151515" stroke-width="1.0" />
<line x1="389.20" y1="225.40" x2="410.80" y2="225.40" stroke="#000" stroke-width="2.2" />
<line x1="365.60" y1="225.40" x2="365.60" y2="248.80" stroke="#151515" stroke-width="1.0" />
<line x1="426.50" y1="225.40" x2="426.50" y2="317.80" stroke="#151515" stroke-width="0.9" />
<path d="M367.00 235.50 L372.20 235.50 L372.20 250.40 L367.00 250.40 Z" stroke="#3a3a3a" stroke-width="0.6" fill="none" stroke-linejoin="round" stroke-linecap="round" />
<path d="M370.80 250.60 L425.50 250.60 L425.50 272.60 L370.80 272.60 Z" stroke="#151515" stroke-width="0.8" fill="#fff" stroke-linejoin="round" stroke-linecap="round" />
<path d="M370.80 250.60 L425.50 250.60 L425.50 254.00 L370.80 254.00 Z" stroke="#151515" stroke-width="0.5" fill="#7d7d7d" stroke-linejoin="round" stroke-linecap="round" />
<line x1="371.00" y1="254.70" x2="416.00" y2="254.70" stroke="#1a1a1a" stroke-width="1.4" />
<path d="M370.80 270.40 L425.50 270.40 L425.50 273.20 L370.80 273.20 Z" stroke="#151515" stroke-width="0.5" fill="#222" stroke-linejoin="round" stroke-linecap="round" />
<line x1="371.00" y1="258.60" x2="416.00" y2="258.60" stroke="#2a2a2a" stroke-width="0.7" />
<line x1="371.00" y1="260.00" x2="416.00" y2="260.00" stroke="#2a2a2a" stroke-width="0.7" />
<line x1="371.00" y1="262.60" x2="416.00" y2="262.60" stroke="#2a2a2a" stroke-width="0.7" />
<line x1="371.00" y1="266.00" x2="416.00" y2="266.00" stroke="#2a2a2a" stroke-width="0.7" />
<line x1="371.00" y1="267.40" x2="416.00" y2="267.40" stroke="#2a2a2a" stroke-width="0.7" />
<line x1="371.00" y1="269.40" x2="416.00" y2="269.40" stroke="#2a2a2a" stroke-width="0.7" />
<line x1="371.00" y1="264.40" x2="470.00" y2="264.40" stroke="#3a3a3a" stroke-width="0.45" />
<path d="M414 254.9 L423 256.3 L414 257.7" stroke="#151515" stroke-width="0.6" fill="none" stroke-linejoin="round" stroke-linecap="round" />
<path d="M414 259.3 L423 260.7 L414 262.09999999999997" stroke="#151515" stroke-width="0.6" fill="none" stroke-linejoin="round" stroke-linecap="round" />
<path d="M414 265.70000000000005 L423 267.1 L414 268.5" stroke="#151515" stroke-width="0.6" fill="none" stroke-linejoin="round" stroke-linecap="round" />
<line x1="412.50" y1="253.40" x2="412.50" y2="270.00" stroke="#3a3a3a" stroke-width="0.6" />
<line x1="421.50" y1="253.40" x2="421.50" y2="270.00" stroke="#3a3a3a" stroke-width="0.5" />
<path d="M371.20 275.30 L424.60 275.30 L424.60 285.30 L371.20 285.30 Z" stroke="#151515" stroke-width="0.6" fill="url(#hG)" stroke-linejoin="round" stroke-linecap="round" />
<path d="M366.40 293.40 L426.00 293.40 L426.00 301.20 L366.40 301.20 Z" stroke="#151515" stroke-width="0.6" fill="url(#hG2)" stroke-linejoin="round" stroke-linecap="round" />
<line x1="371.20" y1="273.60" x2="424.60" y2="273.60" stroke="#151515" stroke-width="1.2" />
<line x1="366.40" y1="289.30" x2="426.00" y2="289.30" stroke="#3a3a3a" stroke-width="0.5" />
<line x1="366.40" y1="295.20" x2="366.40" y2="317.80" stroke="#151515" stroke-width="0.9" />
<path d="M427.30 233.00 L433.70 233.00 L433.70 295.00 L427.30 295.00 Z" stroke="#151515" stroke-width="0.7" fill="#fff" stroke-linejoin="round" stroke-linecap="round" />
<line x1="429.30" y1="238.00" x2="429.30" y2="290.50" stroke="#151515" stroke-width="1.4" />
<line x1="431.60" y1="238.00" x2="431.60" y2="290.50" stroke="#151515" stroke-width="0.7" />
<circle cx="429.40" cy="238.30" r="1.20" stroke="#151515" stroke-width="0.8" fill="#333"/>
<circle cx="429.40" cy="291.00" r="1.20" stroke="#151515" stroke-width="0.8" fill="#333"/>
<path d="M427.00 233.20 L457.00 233.20 L458.00 237.40 L427.00 237.40 Z" stroke="none" stroke-width="0" fill="#fff" stroke-linejoin="round" stroke-linecap="round" />
<path d="M427.00 233.20 L457.00 233.20 L458.00 237.40 L427.00 237.40 Z" stroke="#151515" stroke-width="0.9" fill="url(#hA)" stroke-linejoin="round" stroke-linecap="round" />
<path d="M446.3 221.8 L446.3 229.6 L457 230 L457.8 234" stroke="#151515" stroke-width="1.0" fill="none" stroke-linejoin="round" stroke-linecap="round" />
<line x1="427.00" y1="225.60" x2="427.00" y2="233.20" stroke="#151515" stroke-width="0.9" />
<path d="M344.20 318.00 L426.90 318.00 L426.90 292.80 L446.20 292.80 L449.00 290.20 L457.50 289.40 L457.50 297.20 L453.00 298.40 L446.20 299.00 L446.20 309.80 L436.30 309.80 L436.30 334.40 L411.70 334.40 L411.70 332.00 L410.20 328.00 L406.00 325.60 L344.20 325.60 Z" stroke="none" stroke-width="0" fill="#fff" stroke-linejoin="round" stroke-linecap="round" />
<path d="M344.20 318.00 L426.90 318.00 L426.90 292.80 L446.20 292.80 L449.00 290.20 L457.50 289.40 L457.50 297.20 L453.00 298.40 L446.20 299.00 L446.20 309.80 L436.30 309.80 L436.30 334.40 L411.70 334.40 L411.70 332.00 L410.20 328.00 L406.00 325.60 L344.20 325.60 Z" stroke="#151515" stroke-width="1.1" fill="url(#hA)" stroke-linejoin="round" stroke-linecap="round" />
<path d="M411.70 345.40 L436.30 345.40 L436.30 353.30 L411.70 353.30 Z" stroke="none" stroke-width="0" fill="#fff" stroke-linejoin="round" stroke-linecap="round" />
<path d="M411.70 345.40 L436.30 345.40 L436.30 353.30 L411.70 353.30 Z" stroke="#151515" stroke-width="0.9" fill="url(#hA)" stroke-linejoin="round" stroke-linecap="round" />
<line x1="411.70" y1="334.40" x2="411.70" y2="345.40" stroke="#151515" stroke-width="0.9" />
<line x1="436.30" y1="334.40" x2="436.30" y2="345.40" stroke="#151515" stroke-width="0.9" />
<line x1="405.00" y1="340.00" x2="441.00" y2="340.00" stroke="#3a3a3a" stroke-width="0.45" />
<path d="M435.20 310.50 L437.00 310.50 L437.00 316.00 L435.20 316.00 Z" stroke="#151515" stroke-width="0.6" fill="#fff" stroke-linejoin="round" stroke-linecap="round" />
<path d="M433.80 237.60 L449.40 237.60 L449.40 291.80 L433.80 291.80 Z" stroke="#151515" stroke-width="0.9" fill="#fff" stroke-linejoin="round" stroke-linecap="round" />
<path d="M434.60 237.60 L448.60 237.60 L448.60 252.40 L434.60 252.40 Z" stroke="#151515" stroke-width="0.8" fill="none" stroke-linejoin="round" stroke-linecap="round" />
<line x1="434.60" y1="237.60" x2="448.60" y2="252.40" stroke="#3a3a3a" stroke-width="0.55" />
<line x1="434.60" y1="252.40" x2="448.60" y2="237.60" stroke="#3a3a3a" stroke-width="0.55" />
<path d="M434.60 276.80 L448.60 276.80 L448.60 291.80 L434.60 291.80 Z" stroke="#151515" stroke-width="0.8" fill="none" stroke-linejoin="round" stroke-linecap="round" />
<line x1="434.60" y1="276.80" x2="448.60" y2="291.80" stroke="#3a3a3a" stroke-width="0.55" />
<line x1="434.60" y1="291.80" x2="448.60" y2="276.80" stroke="#3a3a3a" stroke-width="0.55" />
<line x1="433.80" y1="252.40" x2="449.40" y2="252.40" stroke="#151515" stroke-width="0.8" />
<line x1="433.80" y1="276.80" x2="449.40" y2="276.80" stroke="#151515" stroke-width="0.8" />
<line x1="435.50" y1="254.00" x2="435.50" y2="275.00" stroke="#3a3a3a" stroke-width="0.5" />
<line x1="447.60" y1="254.00" x2="447.60" y2="275.00" stroke="#3a3a3a" stroke-width="0.5" />
<path d="M449.40 240.00 L457.50 240.00 L461.00 242.50 L467.50 247.50 L467.50 250.60 L449.40 250.60 Z" stroke="none" stroke-width="0" fill="#fff" stroke-linejoin="round" stroke-linecap="round" />
<path d="M449.40 240.00 L457.50 240.00 L461.00 242.50 L467.50 247.50 L467.50 250.60 L449.40 250.60 Z" stroke="#151515" stroke-width="0.9" fill="url(#hB)" stroke-linejoin="round" stroke-linecap="round" />
<path d="M449.40 278.00 L467.50 278.00 L467.50 281.00 L461.00 286.00 L457.50 289.00 L449.40 289.00 Z" stroke="none" stroke-width="0" fill="#fff" stroke-linejoin="round" stroke-linecap="round" />
<path d="M449.40 278.00 L467.50 278.00 L467.50 281.00 L461.00 286.00 L457.50 289.00 L449.40 289.00 Z" stroke="#151515" stroke-width="0.9" fill="url(#hB)" stroke-linejoin="round" stroke-linecap="round" />
<path d="M449.40 250.60 L467.50 250.60 L467.50 278.00 L449.40 278.00 Z" stroke="#151515" stroke-width="0.9" fill="#fff" stroke-linejoin="round" stroke-linecap="round" />
<line x1="450.40" y1="250.60" x2="450.40" y2="278.00" stroke="#151515" stroke-width="1.4" />
<path d="M452.5 256.5 Q457.5 259.5 463 256.5" stroke="#3a3a3a" stroke-width="0.5" fill="none" stroke-linejoin="round" stroke-linecap="round" />
<line x1="452.00" y1="274.50" x2="466.00" y2="274.50" stroke="#3a3a3a" stroke-width="0.5" />
<path d="M467.50 246.30 L482.30 246.30 L482.30 281.70 L467.50 281.70 Z" stroke="#151515" stroke-width="0.9" fill="#fff" stroke-linejoin="round" stroke-linecap="round" />
<line x1="469.50" y1="255.00" x2="469.50" y2="277.00" stroke="#151515" stroke-width="1.0" />
<line x1="476.50" y1="248.00" x2="476.50" y2="276.00" stroke="#151515" stroke-width="0.8" />
<line x1="478.50" y1="255.00" x2="478.50" y2="276.00" stroke="#3a3a3a" stroke-width="0.6" />
<line x1="467.50" y1="254.80" x2="482.30" y2="254.80" stroke="#3a3a3a" stroke-width="0.6" />
<path d="M470 246.5 L475 246.5 L478.5 250 L478.5 255" stroke="#151515" stroke-width="0.7" fill="none" stroke-linejoin="round" stroke-linecap="round" />
<path d="M479.50 256.00 L482.30 256.00 L482.30 273.00 L479.50 273.00 Z" stroke="#151515" stroke-width="0.4" fill="#999" stroke-linejoin="round" stroke-linecap="round" />
<path d="M467.8 276.5 L478.5 276.5 L478 280 Q475 283.5 470.5 283 L467.8 280.5 Z" stroke="#151515" stroke-width="0.6" fill="#222" stroke-linejoin="round" stroke-linecap="round" />
<path d="M461.90 230.00 L483.10 230.00 L483.10 231.30 L511.20 231.30 L511.20 238.80 L468.00 238.80 L461.90 234.20 Z" stroke="none" stroke-width="0" fill="#fff" stroke-linejoin="round" stroke-linecap="round" />
<path d="M461.90 230.00 L483.10 230.00 L483.10 231.30 L511.20 231.30 L511.20 238.80 L468.00 238.80 L461.90 234.20 Z" stroke="#151515" stroke-width="0.9" fill="url(#hB)" stroke-linejoin="round" stroke-linecap="round" />
<path d="M461.60 223.60 L476.60 223.60 L476.60 230.10 L461.60 230.10 Z" stroke="#151515" stroke-width="1.0" fill="#fff" stroke-linejoin="round" stroke-linecap="round" />
<line x1="461.60" y1="227.90" x2="476.60" y2="227.90" stroke="#151515" stroke-width="0.9" />
<line x1="463.00" y1="225.70" x2="475.50" y2="225.70" stroke="#3a3a3a" stroke-width="0.5" />
<path d="M461.90 298.80 L477.00 298.80 L477.00 297.80 L511.20 297.80 L511.20 290.20 L468.00 290.20 L461.90 294.60 Z" stroke="none" stroke-width="0" fill="#fff" stroke-linejoin="round" stroke-linecap="round" />
<path d="M461.90 298.80 L477.00 298.80 L477.00 297.80 L511.20 297.80 L511.20 290.20 L468.00 290.20 L461.90 294.60 Z" stroke="#151515" stroke-width="0.9" fill="url(#hB)" stroke-linejoin="round" stroke-linecap="round" />
<path d="M461.60 298.80 L476.60 298.80 L476.60 305.40 L461.60 305.40 Z" stroke="#151515" stroke-width="1.0" fill="#fff" stroke-linejoin="round" stroke-linecap="round" />
<line x1="461.60" y1="301.00" x2="476.60" y2="301.00" stroke="#151515" stroke-width="0.9" />
<line x1="463.00" y1="303.40" x2="476.00" y2="303.40" stroke="#3a3a3a" stroke-width="0.5" />
<line x1="483.10" y1="231.30" x2="483.10" y2="297.80" stroke="#151515" stroke-width="1.2" />
<line x1="485.40" y1="238.80" x2="485.40" y2="290.20" stroke="#151515" stroke-width="0.8" />
<line x1="508.60" y1="238.80" x2="508.60" y2="290.20" stroke="#444" stroke-width="1.3" />
<line x1="511.20" y1="231.30" x2="511.20" y2="297.80" stroke="#151515" stroke-width="1.0" />
<line x1="485.40" y1="241.00" x2="508.60" y2="241.00" stroke="#151515" stroke-width="0.7" />
<line x1="485.40" y1="287.60" x2="508.60" y2="287.60" stroke="#151515" stroke-width="0.7" />
<line x1="485.40" y1="286.00" x2="508.60" y2="286.00" stroke="#3a3a3a" stroke-width="0.5" />
<path d="M458 237.6 L461.9 234.2" stroke="#151515" stroke-width="0.8" fill="none" stroke-linejoin="round" stroke-linecap="round" />
<path d="M457.5 289.4 L461.9 294.6" stroke="#151515" stroke-width="0.8" fill="none" stroke-linejoin="round" stroke-linecap="round" />
<path d="M457.80 239.50 L461.90 234.20 L468.00 238.80 L464.00 244.50 Z" stroke="none" stroke-width="0" fill="#fff" stroke-linejoin="round" stroke-linecap="round" />
<path d="M457.80 239.50 L461.90 234.20 L468.00 238.80 L464.00 244.50 Z" stroke="#151515" stroke-width="0.7" fill="url(#hB)" stroke-linejoin="round" stroke-linecap="round" />
<path d="M457.80 289.00 L461.90 294.60 L468.00 290.20 L464.00 284.20 Z" stroke="none" stroke-width="0" fill="#fff" stroke-linejoin="round" stroke-linecap="round" />
<path d="M457.80 289.00 L461.90 294.60 L468.00 290.20 L464.00 284.20 Z" stroke="#151515" stroke-width="0.7" fill="url(#hB)" stroke-linejoin="round" stroke-linecap="round" />
<path d="M296.20 291.20 L306.40 291.20 L306.40 306.20 L296.20 306.20 Z" stroke="#151515" stroke-width="0.7" fill="url(#hK2)" stroke-linejoin="round" stroke-linecap="round" />
<path d="M296.20 306.20 L306.40 306.20 L306.40 320.60 L296.20 320.60 Z" stroke="#151515" stroke-width="0.7" fill="#fff" stroke-linejoin="round" stroke-linecap="round" />
<line x1="296.20" y1="313.50" x2="306.40" y2="313.50" stroke="#3a3a3a" stroke-width="0.5" />
<path d="M307.2 297.2 A13 9.9 0 0 1 333.2 297.2 Z" stroke="#151515" stroke-width="1.1" fill="url(#hA)" stroke-linejoin="round" stroke-linecap="round" />
<path d="M313.2 296 Q313.2 293.2 316 293.2 L325.5 293.2 Q328.3 293.2 328.3 296 Z" stroke="#151515" stroke-width="0.7" fill="#fff" stroke-linejoin="round" stroke-linecap="round" />
<path d="M306.40 297.50 L334.40 297.50 L334.40 316.20 L306.40 316.20 Z" stroke="#151515" stroke-width="0.9" fill="#fff" stroke-linejoin="round" stroke-linecap="round" />
<path d="M306.40 299.80 L316.50 299.80 L316.50 306.20 L306.40 306.20 Z" stroke="#151515" stroke-width="0.5" fill="url(#hK2)" stroke-linejoin="round" stroke-linecap="round" />
<circle cx="305.60" cy="298.60" r="1.30" stroke="#151515" stroke-width="0.5" fill="#fff"/>
<line x1="306.40" y1="299.00" x2="334.40" y2="299.00" stroke="#333" stroke-width="1.8" stroke-dasharray="1.2 0.8"/>
<line x1="306.00" y1="314.60" x2="333.00" y2="314.60" stroke="#333" stroke-width="1.4" stroke-dasharray="1.2 0.8"/>
<path d="M316.50 301.50 L324.70 301.50 L324.70 311.50 L316.50 311.50 Z" stroke="#151515" stroke-width="0.8" fill="none" stroke-linejoin="round" stroke-linecap="round" />
<path d="M318.5 303 L321 303 Q323.4 306.5 321 310 L318.5 310 Z" stroke="#151515" stroke-width="0.6" fill="none" stroke-linejoin="round" stroke-linecap="round" />
<line x1="306.40" y1="310.50" x2="316.50" y2="310.50" stroke="#3a3a3a" stroke-width="0.6" />
<line x1="324.70" y1="302.30" x2="334.40" y2="302.30" stroke="#3a3a3a" stroke-width="0.6" />
<line x1="324.70" y1="310.50" x2="334.40" y2="310.50" stroke="#3a3a3a" stroke-width="0.6" />
<line x1="308.50" y1="302.30" x2="308.50" y2="310.50" stroke="#3a3a3a" stroke-width="0.5" />
<line x1="292.50" y1="306.30" x2="372.00" y2="306.30" stroke="#3a3a3a" stroke-width="0.45" />
<path d="M334.40 288.10 L344.40 288.10 L344.40 325.00 L334.40 325.00 Z" stroke="#151515" stroke-width="0.8" fill="url(#hK)" stroke-linejoin="round" stroke-linecap="round" />
<path d="M334.40 302.60 L344.40 302.60 L344.40 310.20 L334.40 310.20 Z" stroke="#151515" stroke-width="0.6" fill="#fff" stroke-linejoin="round" stroke-linecap="round" />
<path d="M337.00 285.80 L342.00 285.80 L342.00 288.10 L337.00 288.10 Z" stroke="#151515" stroke-width="0.6" fill="url(#hK)" stroke-linejoin="round" stroke-linecap="round" />
<path d="M345.00 294.40 L363.80 294.40 L363.80 317.60 L345.00 317.60 Z" stroke="#151515" stroke-width="0.8" fill="#1c1c1c" stroke-linejoin="round" stroke-linecap="round" />
<path d="M350.00 297.20 L357.50 297.20 L357.50 299.20 L350.00 299.20 Z" stroke="none" stroke-width="0" fill="#ddd" stroke-linejoin="round" stroke-linecap="round" />
<path d="M350.00 313.00 L357.50 313.00 L357.50 315.00 L350.00 315.00 Z" stroke="none" stroke-width="0" fill="#ddd" stroke-linejoin="round" stroke-linecap="round" />
<path d="M355.50 300.50 L360.50 300.50 L360.50 312.00 L355.50 312.00 Z" stroke="none" stroke-width="0" fill="#f4f4f4" stroke-linejoin="round" stroke-linecap="round" />
<path d="M356.60 303.00 L358.00 303.00 L358.00 309.50 L356.60 309.50 Z" stroke="none" stroke-width="0" fill="#111" stroke-linejoin="round" stroke-linecap="round" />
<path d="M347 300 l3 1.2 l-3 1.2 l3 1.2 l-3 1.2 l3 1.2 l-3 1.2 l3 1.2 l-3 1.2 l3 1.2" stroke="#eee" stroke-width="0.6" fill="none" stroke-linejoin="round" stroke-linecap="round" />
<line x1="362.00" y1="295.00" x2="362.00" y2="317.00" stroke="#ddd" stroke-width="0.5" />
<line x1="364.80" y1="294.50" x2="364.80" y2="317.60" stroke="#3a3a3a" stroke-width="0.6" />
<line x1="367.50" y1="303.50" x2="372.50" y2="303.50" stroke="#3a3a3a" stroke-width="0.5" />
<line x1="367.50" y1="309.00" x2="372.50" y2="309.00" stroke="#3a3a3a" stroke-width="0.5" />
<path d="M365.30 319.50 L367.30 319.50 L367.30 323.00 L365.30 323.00 Z" stroke="none" stroke-width="0" fill="#222" stroke-linejoin="round" stroke-linecap="round" />
<path d="M308.80 316.20 L316.50 316.20 L317.00 320.00 L316.90 334.00 L313.80 334.00 L312.00 322.00 L308.50 318.50 Z" stroke="none" stroke-width="0" fill="#fff" stroke-linejoin="round" stroke-linecap="round" />
<path d="M308.80 316.20 L316.50 316.20 L317.00 320.00 L316.90 334.00 L313.80 334.00 L312.00 322.00 L308.50 318.50 Z" stroke="#151515" stroke-width="0.9" fill="url(#hA)" stroke-linejoin="round" stroke-linecap="round" />
<path d="M332.60 316.20 L325.00 316.20 L324.50 320.00 L326.20 334.00 L329.30 334.00 L331.20 322.00 L333.20 318.50 Z" stroke="none" stroke-width="0" fill="#fff" stroke-linejoin="round" stroke-linecap="round" />
<path d="M332.60 316.20 L325.00 316.20 L324.50 320.00 L326.20 334.00 L329.30 334.00 L331.20 322.00 L333.20 318.50 Z" stroke="#151515" stroke-width="0.9" fill="url(#hA)" stroke-linejoin="round" stroke-linecap="round" />
<path d="M307.5 316.5 Q310 320.5 313.5 319.5" stroke="#151515" stroke-width="1.6" fill="none" stroke-linejoin="round" stroke-linecap="round" />
<path d="M334 316.5 Q331.5 320.5 327.8 319.5" stroke="#151515" stroke-width="1.6" fill="none" stroke-linejoin="round" stroke-linecap="round" />
<path d="M313 317.8 Q320.7 314.8 328.5 317.8" stroke="#151515" stroke-width="0.8" fill="none" stroke-linejoin="round" stroke-linecap="round" />
<line x1="314.60" y1="334.00" x2="314.60" y2="366.20" stroke="#151515" stroke-width="1.7" />
<line x1="316.90" y1="320.00" x2="316.90" y2="366.20" stroke="#151515" stroke-width="0.8" />
<line x1="326.10" y1="320.00" x2="326.10" y2="366.20" stroke="#151515" stroke-width="0.8" />
<line x1="328.40" y1="334.00" x2="328.40" y2="366.20" stroke="#151515" stroke-width="1.7" />
<line x1="314.40" y1="366.20" x2="328.40" y2="366.20" stroke="#151515" stroke-width="0.8" />
<line x1="321.30" y1="322.00" x2="321.30" y2="372.00" stroke="#3a3a3a" stroke-width="0.5" stroke-dasharray="7 2 1.5 2"/>
<line x1="312.00" y1="334.00" x2="312.00" y2="420.50" stroke="#3a3a3a" stroke-width="0.55" />
<line x1="331.20" y1="334.00" x2="331.20" y2="420.50" stroke="#3a3a3a" stroke-width="0.55" />
<line x1="314.50" y1="366.00" x2="314.50" y2="407.00" stroke="#3a3a3a" stroke-width="0.55" />
<line x1="328.20" y1="366.00" x2="328.20" y2="407.00" stroke="#3a3a3a" stroke-width="0.55" />
<line x1="316.80" y1="366.00" x2="316.80" y2="383.00" stroke="#3a3a3a" stroke-width="0.55" />
<line x1="326.20" y1="366.00" x2="326.20" y2="383.00" stroke="#3a3a3a" stroke-width="0.55" />
<line x1="316.80" y1="381.00" x2="326.20" y2="381.00" stroke="#3a3a3a" stroke-width="0.55" />
<text transform="translate(321.60 379.60) scale(0.85 1)" x="0" y="0" font-size="6.5" fill="#555" text-anchor="middle" letter-spacing="0.3" >ø7</text>
<line x1="315.20" y1="394.00" x2="327.60" y2="394.00" stroke="#3a3a3a" stroke-width="0.55" />
<text transform="translate(321.60 392.40) scale(0.85 1)" x="0" y="0" font-size="6.5" fill="#555" text-anchor="middle" letter-spacing="0.3" >ø9</text>
<line x1="314.50" y1="405.20" x2="328.20" y2="405.20" stroke="#3a3a3a" stroke-width="0.55" />
<path d="M314.50 405.20 L317.70 404.75 L317.70 405.65 Z" fill="#3a3a3a" stroke="none"/>
<path d="M328.20 405.20 L325.00 405.65 L325.00 404.75 Z" fill="#3a3a3a" stroke="none"/>
<text transform="translate(321.35 403.70) scale(0.83 1)" x="0" y="0" font-size="6.5" fill="#555" text-anchor="middle" letter-spacing="0.3" >ø10</text>
<line x1="312.00" y1="418.80" x2="331.20" y2="418.80" stroke="#3a3a3a" stroke-width="0.55" />
<path d="M312.00 418.80 L315.20 418.35 L315.20 419.25 Z" fill="#3a3a3a" stroke="none"/>
<path d="M331.20 418.80 L328.00 419.25 L328.00 418.35 Z" fill="#3a3a3a" stroke="none"/>
<text transform="translate(321.60 416.90) scale(0.83 1)" x="0" y="0" font-size="6.5" fill="#555" text-anchor="middle" letter-spacing="0.3" >ø14</text>
<line x1="291.00" y1="334.50" x2="314.00" y2="334.50" stroke="#3a3a3a" stroke-width="0.55" />
<line x1="291.00" y1="366.20" x2="314.40" y2="366.20" stroke="#3a3a3a" stroke-width="0.55" />
<line x1="292.60" y1="334.50" x2="292.60" y2="366.20" stroke="#3a3a3a" stroke-width="0.55" />
<path d="M292.60 334.50 L293.05 337.70 L292.15 337.70 Z" fill="#3a3a3a" stroke="none"/>
<path d="M292.60 366.20 L292.15 363.00 L293.05 363.00 Z" fill="#3a3a3a" stroke="none"/>
<text transform="translate(291.00 350.30) rotate(-90) scale(0.78 1)" x="0" y="0" font-size="8" fill="#555" text-anchor="middle" letter-spacing="0.3" >23.5</text>
<line x1="296.00" y1="147.50" x2="296.00" y2="320.60" stroke="#3a3a3a" stroke-width="0.55" />
<line x1="511.20" y1="147.50" x2="511.20" y2="394.50" stroke="#3a3a3a" stroke-width="0.55" />
<line x1="296.00" y1="150.40" x2="511.20" y2="150.40" stroke="#3a3a3a" stroke-width="0.55" />
<path d="M296.00 150.40 L299.20 149.95 L299.20 150.85 Z" fill="#3a3a3a" stroke="none"/>
<path d="M511.20 150.40 L508.00 150.85 L508.00 149.95 Z" fill="#3a3a3a" stroke="none"/>
<text transform="translate(402.50 148.90)" x="0" y="0" font-size="6.8" fill="#555" text-anchor="middle" letter-spacing="0.3" >(158.5)</text>
<line x1="433.30" y1="173.60" x2="433.30" y2="186.00" stroke="#3a3a3a" stroke-width="0.55" />
<line x1="435.30" y1="173.60" x2="435.30" y2="186.00" stroke="#3a3a3a" stroke-width="0.55" />
<line x1="417.50" y1="176.30" x2="443.50" y2="176.30" stroke="#3a3a3a" stroke-width="0.55" />
<text transform="translate(422.40 175.30) scale(0.78 1)" x="0" y="0" font-size="7.6" fill="#555" text-anchor="middle" letter-spacing="0.3" >1.5</text>
<line x1="435.80" y1="193.00" x2="457.50" y2="193.00" stroke="#3a3a3a" stroke-width="0.55" />
<line x1="435.80" y1="207.00" x2="457.50" y2="207.00" stroke="#3a3a3a" stroke-width="0.55" />
<line x1="435.80" y1="189.70" x2="472.50" y2="189.70" stroke="#3a3a3a" stroke-width="0.55" />
<line x1="435.80" y1="210.20" x2="472.50" y2="210.20" stroke="#3a3a3a" stroke-width="0.55" />
<line x1="455.00" y1="193.00" x2="455.00" y2="207.00" stroke="#3a3a3a" stroke-width="0.55" />
<path d="M455.00 193.00 L455.45 196.20 L454.55 196.20 Z" fill="#3a3a3a" stroke="none"/>
<path d="M455.00 207.00 L454.55 203.80 L455.45 203.80 Z" fill="#3a3a3a" stroke="none"/>
<text transform="translate(453.80 200.30) rotate(-90) scale(0.78 1)" x="0" y="0" font-size="7.4" fill="#555" text-anchor="middle" letter-spacing="0.3" >ø10</text>
<line x1="470.40" y1="189.70" x2="470.40" y2="210.20" stroke="#3a3a3a" stroke-width="0.55" />
<path d="M470.40 189.70 L470.85 192.90 L469.95 192.90 Z" fill="#3a3a3a" stroke="none"/>
<path d="M470.40 210.20 L469.95 207.00 L470.85 207.00 Z" fill="#3a3a3a" stroke="none"/>
<text transform="translate(469.40 200.30) rotate(-90) scale(0.78 1)" x="0" y="0" font-size="7.4" fill="#555" text-anchor="middle" letter-spacing="0.3" >ø15</text>
<line x1="483.30" y1="203.00" x2="483.30" y2="231.00" stroke="#3a3a3a" stroke-width="0.55" />
<line x1="483.30" y1="205.20" x2="511.20" y2="205.20" stroke="#3a3a3a" stroke-width="0.55" />
<path d="M483.30 205.20 L486.50 204.75 L486.50 205.65 Z" fill="#3a3a3a" stroke="none"/>
<path d="M511.20 205.20 L508.00 205.65 L508.00 204.75 Z" fill="#3a3a3a" stroke="none"/>
<text transform="translate(497.30 203.60) scale(0.86 1)" x="0" y="0" font-size="8.2" fill="#555" text-anchor="middle" letter-spacing="0.3" >20</text>
<line x1="446.00" y1="218.60" x2="571.50" y2="218.60" stroke="#3a3a3a" stroke-width="0.55" />
<line x1="436.30" y1="309.80" x2="571.50" y2="309.80" stroke="#3a3a3a" stroke-width="0.55" />
<line x1="461.00" y1="223.40" x2="555.00" y2="223.40" stroke="#3a3a3a" stroke-width="0.55" />
<line x1="458.00" y1="305.60" x2="555.00" y2="305.60" stroke="#3a3a3a" stroke-width="0.55" />
<line x1="511.20" y1="231.30" x2="537.50" y2="231.30" stroke="#3a3a3a" stroke-width="0.55" />
<line x1="511.20" y1="297.50" x2="537.50" y2="297.50" stroke="#3a3a3a" stroke-width="0.55" />
<line x1="535.80" y1="231.30" x2="535.80" y2="297.50" stroke="#3a3a3a" stroke-width="0.55" />
<path d="M535.80 231.30 L536.25 234.50 L535.35 234.50 Z" fill="#3a3a3a" stroke="none"/>
<path d="M535.80 297.50 L535.35 294.30 L536.25 294.30 Z" fill="#3a3a3a" stroke="none"/>
<text transform="translate(534.60 264.50) rotate(-90)" x="0" y="0" font-size="7.5" fill="#555" text-anchor="middle" letter-spacing="0.3" >ø48</text>
<line x1="552.30" y1="223.40" x2="552.30" y2="305.60" stroke="#3a3a3a" stroke-width="0.55" />
<path d="M552.30 223.40 L552.75 226.60 L551.85 226.60 Z" fill="#3a3a3a" stroke="none"/>
<path d="M552.30 305.60 L551.85 302.40 L552.75 302.40 Z" fill="#3a3a3a" stroke="none"/>
<text transform="translate(551.00 264.80) rotate(-90)" x="0" y="0" font-size="7" fill="#555" text-anchor="middle" letter-spacing="0.3" >ø60.5</text>
<line x1="569.70" y1="218.60" x2="569.70" y2="309.80" stroke="#3a3a3a" stroke-width="0.55" />
<path d="M569.70 218.60 L570.15 221.80 L569.25 221.80 Z" fill="#3a3a3a" stroke="none"/>
<path d="M569.70 309.80 L569.25 306.60 L570.15 306.60 Z" fill="#3a3a3a" stroke="none"/>
<text transform="translate(568.40 264.60) rotate(-90)" x="0" y="0" font-size="7.3" fill="#555" text-anchor="middle" letter-spacing="0.3" >ø67</text>
<line x1="436.30" y1="353.30" x2="436.30" y2="394.50" stroke="#3a3a3a" stroke-width="0.55" />
<line x1="476.80" y1="304.30" x2="476.80" y2="374.50" stroke="#3a3a3a" stroke-width="0.55" />
<line x1="436.30" y1="372.70" x2="476.80" y2="372.70" stroke="#3a3a3a" stroke-width="0.55" />
<path d="M436.30 372.70 L439.50 372.25 L439.50 373.15 Z" fill="#3a3a3a" stroke="none"/>
<path d="M476.80 372.70 L473.60 373.15 L473.60 372.25 Z" fill="#3a3a3a" stroke="none"/>
<text transform="translate(463.60 371.00) scale(0.82 1)" x="0" y="0" font-size="7.8" fill="#555" text-anchor="middle" letter-spacing="0.3" >30</text>
<line x1="436.30" y1="392.80" x2="511.20" y2="392.80" stroke="#3a3a3a" stroke-width="0.55" />
<path d="M436.30 392.80 L439.50 392.35 L439.50 393.25 Z" fill="#3a3a3a" stroke="none"/>
<path d="M511.20 392.80 L508.00 393.25 L508.00 392.35 Z" fill="#3a3a3a" stroke="none"/>
<text transform="translate(467.60 391.00) scale(0.85 1)" x="0" y="0" font-size="8" fill="#555" text-anchor="middle" letter-spacing="0.3" >55</text>
<circle cx="653.80" cy="209.80" r="13.10" stroke="#151515" stroke-width="1.1" fill="none"/>
<circle cx="653.80" cy="209.80" r="5.60" stroke="#151515" stroke-width="0.9" fill="none"/>
<line x1="639.00" y1="209.80" x2="669.00" y2="209.80" stroke="#3a3a3a" stroke-width="0.4" />
<line x1="653.80" y1="195.00" x2="653.80" y2="225.00" stroke="#3a3a3a" stroke-width="0.4" />
<path d="M661.20 198.90 C663.67 199.92 671.53 203.28 676.00 205.00 C680.47 206.72 684.83 208.32 688.00 209.20 C691.17 210.08 693.12 210.33 695.00 210.30 C696.88 210.27 698.27 209.80 699.30 209.00 C700.33 208.20 700.88 206.08 701.20 205.50" stroke="#151515" stroke-width="0.95" fill="none" stroke-linejoin="round" stroke-linecap="round" />
<path d="M666.90 210.00 C667.81 210.33 674.23 212.64 676.00 213.30 C677.77 213.96 684.20 215.98 684.60 216.60 C685.00 217.22 681.46 218.71 680.00 219.50 C678.54 220.29 671.55 224.47 670.00 224.50 C668.45 224.53 665.05 220.27 664.50 219.80" stroke="#151515" stroke-width="0.95" fill="none" stroke-linejoin="round" stroke-linecap="round" />
<path d="M701.20 209.50 C701.22 209.21 701.31 208.49 701.33 207.76 C701.34 207.03 701.16 205.99 701.28 205.13 C701.40 204.27 701.67 203.40 702.05 202.62 C702.43 201.84 702.96 201.09 703.56 200.46 C704.16 199.84 704.89 199.29 705.66 198.88 C706.42 198.48 707.29 198.18 708.14 198.03 C708.99 197.88 709.91 197.86 710.77 197.98 C711.63 198.10 712.50 198.37 713.28 198.75 C714.06 199.13 714.81 199.66 715.44 200.26 C716.06 200.86 716.61 201.59 717.02 202.36 C717.42 203.12 717.54 203.68 717.87 204.84 C718.20 206.00 718.31 208.36 719.00 209.30 C719.69 210.24 721.50 210.30 722.00 210.50" stroke="#151515" stroke-width="0.95" fill="none" stroke-linejoin="round" stroke-linecap="round" />
<path d="M702.80 212.00 C702.90 211.19 703.30 208.26 703.42 207.14 C703.55 206.03 703.41 205.90 703.54 205.31 C703.66 204.72 703.88 204.12 704.18 203.59 C704.47 203.07 704.86 202.56 705.29 202.14 C705.73 201.72 706.25 201.35 706.79 201.08 C707.32 200.80 707.93 200.60 708.52 200.49 C709.12 200.39 709.76 200.37 710.36 200.45 C710.96 200.52 711.57 200.69 712.12 200.94 C712.67 201.18 713.21 201.52 713.67 201.92 C714.12 202.32 714.54 202.80 714.86 203.31 C715.18 203.83 715.27 203.95 715.59 205.00 C715.91 206.04 716.60 208.83 716.80 209.60" stroke="#3a3a3a" stroke-width="0.6" fill="none" stroke-linejoin="round" stroke-linecap="round" />
<circle cx="709.70" cy="206.50" r="2.40" stroke="#151515" stroke-width="0.8" fill="#333"/>
<line x1="709.70" y1="199.00" x2="709.70" y2="214.00" stroke="#3a3a3a" stroke-width="0.35" />
<circle cx="722.50" cy="219.00" r="8.30" stroke="#151515" stroke-width="1.0" fill="none"/>
<circle cx="722.50" cy="219.00" r="4.50" stroke="#151515" stroke-width="0.8" fill="none"/>
<path d="M723.99 210.53 C724.35 210.64 725.46 210.89 726.13 211.21 C726.81 211.52 727.46 211.94 728.03 212.41 C728.60 212.89 729.12 213.46 729.54 214.07 C729.97 214.68 730.33 215.36 730.58 216.06 C730.84 216.76 731.00 217.51 731.07 218.25 C731.13 218.99 731.10 219.76 730.97 220.49 C730.84 221.22 730.61 221.96 730.29 222.63 C729.98 223.31 729.29 224.21 729.09 224.53" stroke="#151515" stroke-width="2.2" fill="none" stroke-linejoin="round" stroke-linecap="round" />
<line x1="714.00" y1="219.00" x2="731.00" y2="219.00" stroke="#3a3a3a" stroke-width="0.35" />
<line x1="722.50" y1="210.00" x2="722.50" y2="228.00" stroke="#3a3a3a" stroke-width="0.35" />
<path d="M731.50 216.50 C732.58 217.92 735.75 221.88 738.00 225.00 C740.25 228.12 742.78 231.03 745.00 235.20 C747.22 239.37 749.80 245.03 751.30 250.00 C752.80 254.97 753.38 260.00 754.00 265.00 C754.62 270.00 754.80 274.17 755.00 280.00 C755.20 285.83 755.45 295.67 755.20 300.00 C754.95 304.33 753.78 305.00 753.50 306.00" stroke="#151515" stroke-width="0.95" fill="none" stroke-linejoin="round" stroke-linecap="round" />
<path d="M728.80 226.30 C729.58 227.17 731.83 229.62 733.50 231.50 C735.17 233.38 737.05 235.18 738.80 237.60 C740.55 240.02 742.55 243.50 744.00 246.00 C745.45 248.50 746.45 249.93 747.50 252.60 C748.55 255.27 749.63 258.77 750.30 262.00 C750.97 265.23 751.30 270.33 751.50 272.00" stroke="#151515" stroke-width="0.95" fill="none" stroke-linejoin="round" stroke-linecap="round" />
<path d="M726.50 227.50 C727.25 228.33 729.17 230.42 731.00 232.50 C732.83 234.58 735.67 237.42 737.50 240.00 C739.33 242.58 740.75 245.50 742.00 248.00 C743.25 250.50 744.08 252.33 745.00 255.00 C745.92 257.67 746.92 261.50 747.50 264.00 C748.08 266.50 748.33 269.00 748.50 270.00" stroke="#3a3a3a" stroke-width="0.6" fill="none" stroke-linejoin="round" stroke-linecap="round" />
<path d="M702.50 205.50 C702.08 206.50 700.95 209.82 700.00 211.50 C699.05 213.18 698.22 214.38 696.80 215.60 C695.38 216.82 693.25 217.90 691.50 218.80 C689.75 219.70 689.18 219.80 686.30 221.00 C683.42 222.20 677.88 224.15 674.20 226.00 C670.52 227.85 667.38 230.50 664.20 232.10 C661.02 233.70 657.28 234.92 655.10 235.60 C652.92 236.28 652.43 236.20 651.10 236.20 C649.77 236.20 648.35 236.02 647.10 235.60 C645.85 235.18 644.60 234.33 643.60 233.70 C642.60 233.07 641.93 232.22 641.10 231.80 C640.27 231.38 639.35 231.07 638.60 231.20 C637.85 231.33 637.03 232.00 636.60 232.60 C636.17 233.20 635.92 234.05 636.00 234.80 C636.08 235.55 636.50 236.50 637.10 237.10 C637.70 237.70 638.77 237.57 639.60 238.40 C640.43 239.23 641.43 240.48 642.10 242.10 C642.77 243.72 643.48 245.58 643.60 248.10 C643.72 250.62 643.30 254.55 642.80 257.20 C642.30 259.85 641.30 262.12 640.60 264.00 C639.90 265.88 638.93 267.75 638.60 268.50" stroke="#151515" stroke-width="1.25" fill="none" stroke-linejoin="round" stroke-linecap="round" />
<path d="M700.80 214.50 C700.17 215.18 698.55 217.38 697.00 218.60 C695.45 219.82 693.12 220.90 691.50 221.80 C689.88 222.70 689.85 222.93 687.30 224.00 C684.75 225.07 679.22 226.83 676.20 228.20 C673.18 229.57 671.10 230.93 669.20 232.20 C667.30 233.47 665.93 234.57 664.80 235.80 C663.67 237.03 662.80 238.97 662.40 239.60" stroke="#151515" stroke-width="0.8" fill="none" stroke-linejoin="round" stroke-linecap="round" />
<line x1="627.00" y1="234.80" x2="636.00" y2="234.80" stroke="#3a3a3a" stroke-width="0.35" />
<line x1="640.30" y1="222.00" x2="640.30" y2="262.00" stroke="#3a3a3a" stroke-width="0.35" />
<path d="M646.20 221.20 C647.00 221.83 649.33 224.05 651.00 225.00 C652.67 225.95 654.37 226.53 656.20 226.90 C658.03 227.27 660.12 227.32 662.00 227.20 C663.88 227.08 665.17 226.90 667.50 226.20 C669.83 225.50 674.58 223.53 676.00 223.00" stroke="#151515" stroke-width="0.95" fill="none" stroke-linejoin="round" stroke-linecap="round" />
<path d="M641.50 220.60 C640.58 220.83 637.75 221.40 636.00 222.00 C634.25 222.60 632.50 223.02 631.00 224.20 C629.50 225.38 627.92 227.28 627.00 229.10 C626.08 230.92 625.58 232.43 625.50 235.10 C625.42 237.77 626.08 241.42 626.50 245.10 C626.92 248.78 627.50 253.38 628.00 257.20 C628.50 261.02 629.00 265.45 629.50 268.00 C630.00 270.55 630.75 271.75 631.00 272.50" stroke="#151515" stroke-width="1.9" fill="none" stroke-linejoin="round" stroke-linecap="round" />
<path d="M626.20 240.50 C626.67 241.08 628.03 242.90 629.00 244.00 C629.97 245.10 630.65 245.57 632.00 247.10 C633.35 248.63 635.92 251.18 637.10 253.20 C638.28 255.22 638.90 257.23 639.10 259.20 C639.30 261.17 638.90 263.20 638.30 265.00 C637.70 266.80 635.97 269.17 635.50 270.00" stroke="#151515" stroke-width="0.95" fill="none" stroke-linejoin="round" stroke-linecap="round" />
<circle cx="640.00" cy="277.40" r="8.20" stroke="#151515" stroke-width="1.0" fill="none"/>
<circle cx="640.00" cy="277.40" r="4.40" stroke="#151515" stroke-width="0.8" fill="none"/>
<path d="M641.48 285.77 C641.06 285.78 639.79 285.94 638.96 285.84 C638.14 285.74 637.30 285.50 636.54 285.17 C635.79 284.83 635.05 284.36 634.42 283.82 C633.80 283.27 633.23 282.61 632.79 281.90 C632.35 281.20 632.00 280.40 631.79 279.60 C631.58 278.80 631.48 277.93 631.51 277.10 C631.53 276.28 631.69 275.42 631.96 274.63 C632.23 273.85 632.64 273.07 633.12 272.40 C633.61 271.73 634.22 271.11 634.88 270.61 C635.55 270.11 636.72 269.61 637.09 269.41" stroke="#151515" stroke-width="2.2" fill="none" stroke-linejoin="round" stroke-linecap="round" />
<line x1="632.00" y1="277.40" x2="648.00" y2="277.40" stroke="#3a3a3a" stroke-width="0.35" />
<line x1="640.00" y1="269.50" x2="640.00" y2="285.50" stroke="#3a3a3a" stroke-width="0.35" />
<path d="M648.30 242.30 C648.15 241.95 647.27 240.87 647.40 240.20 C647.53 239.53 648.32 238.73 649.10 238.30 C649.88 237.87 650.78 237.58 652.10 237.60 C653.42 237.62 655.32 237.98 657.00 238.40 C658.68 238.82 660.17 239.32 662.20 240.10 C664.23 240.88 666.53 241.68 669.20 243.10 C671.87 244.52 675.18 246.67 678.20 248.60 C681.22 250.53 685.78 253.68 687.30 254.70" stroke="#151515" stroke-width="0.95" fill="none" stroke-linejoin="round" stroke-linecap="round" />
<path d="M648.30 242.30 C648.93 243.10 650.72 245.55 652.10 247.10 C653.48 248.65 655.45 250.62 656.60 251.60 C657.75 252.58 658.60 252.77 659.00 253.00" stroke="#151515" stroke-width="0.95" fill="none" stroke-linejoin="round" stroke-linecap="round" />
<line x1="652.10" y1="240.30" x2="684.20" y2="257.20" stroke="#3a3a3a" stroke-width="0.4" />
<path d="M659.27 254.68 L659.19 254.64 L658.90 254.51 L658.73 254.45 L658.46 254.38 L658.28 254.36 L658.01 254.35 L657.83 254.36 L657.56 254.40 L657.38 254.44 L657.12 254.53 L656.96 254.61 L656.72 254.75 L656.57 254.85 L656.37 255.03 L656.24 255.17 L656.08 255.38 L655.98 255.54 L655.83 255.82 L655.80 255.90 L655.69 256.18 L655.68 256.19 L655.66 256.25 L655.66 256.26 L655.19 257.56 L655.19 257.57 L655.17 257.63 L655.16 257.64 L654.74 258.95 L654.74 258.97 L654.72 259.03 L654.72 259.04 L654.34 260.36 L654.34 260.37 L654.32 260.44 L654.32 260.45 L653.98 261.78 L653.98 261.80 L653.96 261.86 L653.96 261.87 L653.67 263.21 L653.67 263.23 L653.66 263.29 L653.65 263.31 L653.41 264.66 L653.40 264.67 L653.39 264.73 L653.39 264.75 L653.19 266.11 L653.19 266.12 L653.18 266.18 L653.18 266.20 L653.02 267.56 L653.02 267.58 L653.01 267.64 L653.01 267.66 L652.90 269.02 L652.90 269.04 L652.89 269.10 L652.89 269.12 L652.83 270.49 L652.83 270.50 L652.82 270.57 L652.82 270.58 L652.80 271.95 L652.80 271.97 L652.80 272.03 L652.80 272.05 L652.82 273.42 L652.82 273.43 L652.83 273.50 L652.83 273.51 L652.89 274.88 L652.89 274.90 L652.90 274.96 L652.90 274.98 L653.01 276.34 L653.01 276.36 L653.02 276.42 L653.02 276.44 L653.18 277.80 L653.18 277.82 L653.19 277.88 L653.19 277.89 L653.39 279.25 L653.39 279.27 L653.40 279.33 L653.41 279.34 L653.65 280.69 L653.66 280.71 L653.67 280.77 L653.67 280.79 L653.96 282.13 L653.96 282.14 L653.98 282.20 L653.98 282.22 L654.32 283.55 L654.32 283.56 L654.34 283.63 L654.34 283.64 L654.72 284.96 L654.72 284.97 L654.74 285.03 L654.74 285.05 L655.16 286.36 L655.17 286.37 L655.19 286.43 L655.19 286.44 L655.66 287.74 L655.66 287.75 L655.68 287.81 L655.69 287.82 L656.19 289.10 L656.20 289.11 L656.22 289.17 L656.23 289.19 L656.77 290.45 L656.78 290.46 L656.81 290.52 L656.81 290.53 L657.40 291.77 L657.41 291.79 L657.43 291.84 L657.44 291.86 L658.07 293.08 L658.08 293.09 L658.11 293.15 L658.11 293.16 L658.78 294.36 L658.79 294.37 L658.82 294.43 L658.83 294.44 L659.53 295.62 L659.54 295.63 L659.57 295.68 L659.58 295.70 L660.32 296.85 L660.33 296.86 L660.37 296.92 L660.38 296.93 L661.16 298.06 L661.17 298.07 L661.20 298.12 L661.21 298.13 L662.03 299.23 L662.04 299.25 L662.08 299.30 L662.09 299.31 L662.94 300.38 L662.95 300.40 L662.99 300.44 L663.00 300.46 L663.89 301.50 L663.90 301.51 L663.94 301.56 L663.95 301.57 L664.87 302.59 L664.88 302.60 L664.92 302.65 L664.93 302.66 L665.89 303.64 L665.90 303.66 L665.94 303.70 L665.96 303.71 L666.94 304.67 L666.95 304.68 L667.00 304.72 L667.01 304.73 L668.03 305.65 L668.04 305.66 L668.09 305.70 L668.10 305.71 L669.14 306.60 L669.16 306.61 L669.20 306.65 L669.22 306.66 L670.29 307.51 L670.30 307.52 L670.35 307.56 L670.37 307.57 L671.47 308.39 L671.48 308.40 L671.53 308.43 L671.54 308.44 L672.67 309.22 L672.68 309.23 L672.74 309.27 L672.75 309.28 L673.90 310.02 L673.92 310.03 L673.97 310.06 L673.98 310.07 L675.16 310.77 L675.17 310.78 L675.23 310.81 L675.24 310.82 L676.44 311.49 L676.45 311.49 L676.51 311.52 L676.52 311.53 L677.74 312.16 L677.76 312.17 L677.81 312.19 L677.83 312.20 L679.07 312.79 L679.08 312.79 L679.14 312.82 L679.15 312.83 L680.41 313.37 L680.43 313.38 L680.49 313.40 L680.50 313.41 L681.78 313.91 L681.79 313.92 L681.85 313.94 L681.86 313.94 L683.16 314.41 L683.17 314.41 L683.23 314.43 L683.24 314.44 L684.55 314.86 L684.57 314.86 L684.63 314.88 L684.64 314.88 L685.96 315.26 L685.97 315.26 L686.04 315.28 L686.05 315.28 L687.38 315.62 L687.40 315.62 L687.46 315.64 L687.47 315.64 L688.45 315.85 L688.54 315.87 L688.87 315.90 L689.06 315.91 L689.34 315.88 L689.53 315.85 L689.80 315.77 L689.98 315.70 L690.23 315.57 L690.39 315.46 L690.61 315.28 L690.75 315.15 L690.93 314.93 L691.03 314.77 L691.17 314.52 L691.24 314.35 L691.33 314.08 L691.36 313.89 L691.40 313.56 L691.40 313.47 L691.40 280.72 L691.39 280.62 L691.36 280.26 L691.31 280.06 L691.22 279.77 L691.13 279.59 L690.98 279.32 L690.86 279.16 L690.65 278.94 L690.50 278.80 L690.21 278.60 L690.12 278.54 L689.73 278.33 L689.70 278.31 L689.70 278.31 L689.67 278.29 L689.29 278.07 L689.27 278.05 L689.26 278.05 L689.23 278.03 L688.86 277.79 L688.84 277.77 L688.83 277.77 L688.80 277.75 L688.44 277.50 L688.42 277.48 L688.41 277.48 L688.38 277.46 L688.03 277.20 L688.01 277.18 L688.00 277.17 L687.98 277.15 L687.63 276.88 L687.61 276.86 L687.60 276.86 L687.58 276.84 L687.24 276.55 L687.22 276.53 L687.21 276.53 L687.19 276.50 L686.86 276.21 L686.84 276.19 L686.83 276.18 L686.81 276.16 L686.49 275.86 L686.47 275.83 L686.47 275.83 L686.44 275.81 L686.14 275.49 L686.12 275.47 L686.11 275.46 L686.09 275.44 L685.80 275.11 L685.77 275.09 L685.77 275.08 L685.75 275.06 L685.46 274.72 L685.44 274.70 L685.44 274.69 L685.42 274.67 L685.15 274.32 L685.13 274.30 L685.12 274.29 L685.10 274.27 L684.84 273.92 L684.82 273.89 L684.82 273.88 L684.80 273.86 L684.55 273.50 L684.53 273.47 L684.53 273.46 L684.51 273.44 L684.27 273.07 L684.25 273.04 L684.25 273.03 L684.23 273.01 L684.01 272.63 L683.99 272.60 L683.99 272.60 L683.97 272.57 L683.76 272.18 L683.74 272.16 L683.74 272.15 L683.73 272.12 L683.52 271.73 L683.51 271.70 L683.51 271.70 L683.49 271.67 L683.31 271.27 L683.29 271.24 L683.29 271.23 L683.28 271.21 L683.10 270.80 L683.09 270.77 L683.09 270.77 L683.07 270.74 L682.91 270.33 L682.90 270.30 L682.90 270.29 L682.89 270.26 L682.74 269.85 L682.73 269.82 L682.73 269.81 L682.72 269.78 L682.58 269.36 L682.57 269.33 L682.57 269.32 L682.56 269.29 L682.44 268.87 L682.43 268.84 L682.43 268.83 L682.42 268.80 L682.40 268.70 L682.37 268.61 L682.25 268.29 L682.17 268.12 L682.02 267.87 L681.90 267.72 L681.70 267.51 L681.56 267.38 L681.28 267.18 L681.20 267.13 L659.27 254.68 Z" stroke="#151515" stroke-width="1.0" fill="none" stroke-linejoin="round" stroke-linecap="round" />
<path d="M657.91 256.81 L657.83 257.00 L657.82 257.04 L657.36 258.31 L657.35 258.35 L656.94 259.64 L656.93 259.68 L656.56 260.97 L656.55 261.01 L656.22 262.32 L656.21 262.36 L655.92 263.68 L655.91 263.72 L655.67 265.05 L655.67 265.09 L655.47 266.43 L655.46 266.47 L655.31 267.81 L655.30 267.85 L655.19 269.19 L655.19 269.23 L655.12 270.58 L655.12 270.62 L655.10 271.97 L655.10 272.01 L655.12 273.36 L655.12 273.41 L655.19 274.75 L655.19 274.79 L655.30 276.14 L655.31 276.18 L655.46 277.52 L655.47 277.56 L655.66 278.90 L655.67 278.94 L655.91 280.27 L655.92 280.31 L656.20 281.62 L656.21 281.66 L656.54 282.97 L656.55 283.01 L656.92 284.31 L656.93 284.35 L657.35 285.64 L657.36 285.67 L657.82 286.95 L657.83 286.98 L658.33 288.24 L658.34 288.28 L658.88 289.52 L658.89 289.55 L659.47 290.77 L659.49 290.81 L660.11 292.01 L660.13 292.05 L660.78 293.23 L660.80 293.26 L661.50 294.42 L661.52 294.45 L662.25 295.59 L662.27 295.62 L663.04 296.73 L663.06 296.77 L663.87 297.85 L663.89 297.88 L664.73 298.94 L664.76 298.97 L665.63 300.00 L665.66 300.03 L666.56 301.03 L666.59 301.06 L667.53 302.03 L667.56 302.06 L668.53 303.00 L668.56 303.03 L669.56 303.94 L669.59 303.96 L670.62 304.84 L670.65 304.86 L671.71 305.70 L671.74 305.73 L672.82 306.53 L672.86 306.55 L673.97 307.32 L674.00 307.35 L675.14 308.08 L675.17 308.10 L676.33 308.79 L676.36 308.81 L677.54 309.47 L677.58 309.49 L678.78 310.10 L678.82 310.12 L680.04 310.70 L680.07 310.72 L681.31 311.25 L681.35 311.27 L682.61 311.77 L682.64 311.78 L683.91 312.24 L683.95 312.25 L685.24 312.66 L685.28 312.67 L686.57 313.04 L686.61 313.05 L687.92 313.38 L687.96 313.39 L688.87 313.59 L689.00 313.60 L689.02 313.60 L689.03 313.60 L689.05 313.59 L689.06 313.58 L689.07 313.56 L689.08 313.55 L689.09 313.53 L689.10 313.40 L689.10 280.79 L689.08 280.65 L689.08 280.63 L689.07 280.61 L689.06 280.60 L688.94 280.52 L688.61 280.34 L688.60 280.33 L688.57 280.31 L688.55 280.30 L688.55 280.30 L688.53 280.29 L688.50 280.27 L688.49 280.26 L688.11 280.04 L688.09 280.03 L688.07 280.01 L688.05 280.00 L688.04 280.00 L688.03 279.99 L688.00 279.97 L687.99 279.96 L687.62 279.72 L687.60 279.71 L687.57 279.70 L687.56 279.69 L687.55 279.68 L687.54 279.67 L687.51 279.65 L687.50 279.64 L687.13 279.39 L687.12 279.38 L687.09 279.36 L687.08 279.35 L687.07 279.35 L687.06 279.34 L687.03 279.32 L687.01 279.31 L686.66 279.04 L686.65 279.03 L686.62 279.01 L686.61 279.00 L686.60 279.00 L686.59 278.99 L686.56 278.97 L686.55 278.96 L686.20 278.68 L686.19 278.67 L686.16 278.65 L686.15 278.64 L686.14 278.63 L686.13 278.62 L686.10 278.60 L686.09 278.59 L685.75 278.31 L685.74 278.29 L685.72 278.27 L685.70 278.26 L685.69 278.26 L685.68 278.24 L685.66 278.22 L685.64 278.21 L685.32 277.91 L685.30 277.90 L685.28 277.88 L685.27 277.87 L685.26 277.86 L685.25 277.85 L685.22 277.83 L685.21 277.81 L684.90 277.51 L684.88 277.50 L684.86 277.47 L684.85 277.46 L684.84 277.45 L684.83 277.44 L684.80 277.42 L684.79 277.40 L684.49 277.09 L684.47 277.08 L684.45 277.05 L684.44 277.04 L684.43 277.03 L684.42 277.02 L684.40 277.00 L684.39 276.98 L684.09 276.66 L684.08 276.64 L684.06 276.62 L684.04 276.61 L684.04 276.60 L684.03 276.58 L684.01 276.56 L683.99 276.55 L683.71 276.21 L683.70 276.20 L683.68 276.17 L683.67 276.16 L683.66 276.15 L683.65 276.14 L683.63 276.11 L683.62 276.10 L683.34 275.75 L683.33 275.74 L683.31 275.71 L683.30 275.70 L683.30 275.69 L683.29 275.68 L683.27 275.65 L683.26 275.64 L682.99 275.29 L682.98 275.27 L682.96 275.24 L682.95 275.23 L682.95 275.22 L682.94 275.21 L682.92 275.18 L682.91 275.17 L682.66 274.80 L682.65 274.79 L682.63 274.76 L682.62 274.75 L682.61 274.74 L682.60 274.73 L682.59 274.70 L682.58 274.68 L682.34 274.31 L682.33 274.30 L682.31 274.27 L682.30 274.26 L682.30 274.25 L682.29 274.23 L682.27 274.21 L682.26 274.19 L682.04 273.81 L682.03 273.80 L682.01 273.77 L682.00 273.75 L682.00 273.75 L681.99 273.73 L681.97 273.70 L681.96 273.69 L681.75 273.30 L681.74 273.29 L681.72 273.26 L681.72 273.24 L681.71 273.23 L681.70 273.22 L681.69 273.19 L681.68 273.17 L681.48 272.78 L681.47 272.77 L681.46 272.74 L681.45 272.72 L681.44 272.71 L681.44 272.70 L681.42 272.67 L681.41 272.65 L681.23 272.25 L681.22 272.24 L681.21 272.21 L681.20 272.19 L681.19 272.18 L681.19 272.17 L681.17 272.14 L681.17 272.12 L680.99 271.72 L680.98 271.70 L680.97 271.67 L680.96 271.65 L680.96 271.65 L680.95 271.63 L680.94 271.60 L680.94 271.58 L680.77 271.17 L680.77 271.16 L680.76 271.13 L680.75 271.11 L680.75 271.10 L680.74 271.08 L680.73 271.05 L680.72 271.04 L680.57 270.62 L680.57 270.60 L680.56 270.58 L680.55 270.56 L680.55 270.55 L680.54 270.53 L680.53 270.50 L680.53 270.48 L680.39 270.07 L680.39 270.05 L680.38 270.02 L680.37 270.00 L680.37 269.99 L680.36 269.97 L680.36 269.94 L680.35 269.93 L680.23 269.50 L680.22 269.49 L680.22 269.45 L680.21 269.44 L680.21 269.43 L680.20 269.41 L680.20 269.38 L680.19 269.36 L680.18 269.33 L680.14 269.20 L680.13 269.19 L680.12 269.17 L680.01 269.10 L658.19 256.71 L658.07 256.66 L658.06 256.65 L658.04 256.65 L658.02 256.65 L658.01 256.66 L657.99 256.67 L657.98 256.68 L657.97 256.69 L657.91 256.81 Z" stroke="#151515" stroke-width="0.7" fill="none" stroke-linejoin="round" stroke-linecap="round" />
<path d="M672.98 233.98 L672.90 234.04 L672.63 234.25 L672.49 234.39 L672.30 234.62 L672.20 234.78 L672.06 235.04 L671.98 235.23 L671.90 235.51 L671.87 235.70 L671.85 235.99 L671.85 236.19 L671.89 236.48 L671.94 236.67 L672.03 236.95 L672.12 237.13 L672.27 237.38 L672.39 237.54 L672.59 237.76 L672.73 237.88 L673.01 238.08 L673.10 238.14 L687.78 246.47 L687.86 246.51 L688.15 246.64 L688.32 246.70 L688.58 246.76 L688.76 246.79 L689.04 246.80 L689.22 246.79 L689.49 246.75 L689.66 246.71 L689.92 246.62 L690.08 246.54 L690.32 246.40 L690.47 246.30 L690.67 246.12 L690.80 245.99 L690.97 245.77 L691.06 245.62 L691.19 245.38 L691.25 245.21 L691.33 244.95 L691.37 244.77 L691.40 244.45 L691.40 244.36 L691.40 230.02 L691.40 229.93 L691.36 229.60 L691.33 229.41 L691.24 229.14 L691.17 228.96 L691.03 228.71 L690.93 228.56 L690.75 228.34 L690.61 228.21 L690.39 228.03 L690.23 227.92 L689.98 227.79 L689.80 227.72 L689.53 227.64 L689.34 227.61 L689.06 227.58 L688.87 227.59 L688.54 227.62 L688.45 227.64 L687.36 227.87 L687.34 227.88 L687.28 227.89 L687.27 227.89 L685.92 228.23 L685.91 228.24 L685.85 228.25 L685.83 228.26 L684.50 228.64 L684.48 228.64 L684.42 228.66 L684.41 228.67 L683.08 229.09 L683.07 229.09 L683.01 229.11 L682.99 229.12 L681.69 229.59 L681.67 229.59 L681.61 229.62 L681.60 229.62 L680.31 230.13 L680.29 230.14 L680.24 230.16 L680.22 230.17 L678.95 230.72 L678.93 230.73 L678.88 230.75 L678.86 230.76 L677.61 231.35 L677.59 231.36 L677.54 231.39 L677.52 231.39 L676.29 232.03 L676.27 232.03 L676.22 232.06 L676.20 232.07 L674.99 232.75 L674.98 232.75 L674.92 232.79 L674.91 232.79 L673.72 233.51 L673.71 233.52 L673.65 233.55 L673.64 233.56 L672.98 233.98 Z" stroke="#151515" stroke-width="1.0" fill="none" stroke-linejoin="round" stroke-linecap="round" />
<path d="M674.16 235.99 L674.15 236.01 L674.15 236.03 L674.15 236.05 L674.16 236.06 L674.17 236.08 L674.18 236.09 L674.29 236.17 L688.86 244.44 L688.97 244.49 L688.99 244.50 L689.00 244.50 L689.02 244.49 L689.04 244.49 L689.05 244.48 L689.07 244.47 L689.08 244.46 L689.08 244.44 L689.09 244.42 L689.10 244.30 L689.10 230.09 L689.09 229.96 L689.08 229.94 L689.07 229.92 L689.06 229.91 L689.05 229.90 L689.03 229.89 L689.02 229.89 L689.00 229.89 L688.87 229.90 L687.86 230.12 L687.82 230.13 L686.50 230.46 L686.46 230.47 L685.14 230.84 L685.10 230.86 L683.80 231.27 L683.76 231.29 L682.48 231.75 L682.44 231.76 L681.17 232.26 L681.13 232.28 L679.88 232.82 L679.84 232.84 L678.61 233.42 L678.57 233.44 L677.35 234.07 L677.32 234.08 L676.12 234.75 L676.09 234.77 L674.92 235.47 L674.88 235.49 L674.28 235.88 L674.18 235.96 L674.17 235.98 L674.16 235.99 Z" stroke="#151515" stroke-width="0.7" fill="none" stroke-linejoin="round" stroke-linecap="round" />
<path d="M705.78 226.37 L705.68 226.36 L705.36 226.33 L705.17 226.33 L704.89 226.36 L704.71 226.40 L704.45 226.49 L704.28 226.56 L704.03 226.69 L703.88 226.80 L703.66 226.98 L703.53 227.11 L703.36 227.33 L703.25 227.48 L703.12 227.73 L703.05 227.90 L702.97 228.17 L702.94 228.35 L702.90 228.68 L702.90 228.77 L702.90 248.31 L702.90 248.40 L702.93 248.72 L702.97 248.89 L703.04 249.15 L703.11 249.32 L703.23 249.56 L703.33 249.71 L703.49 249.93 L703.62 250.06 L703.82 250.24 L703.96 250.34 L704.24 250.50 L704.31 250.55 L704.46 250.61 L704.48 250.63 L704.49 250.63 L704.52 250.65 L704.92 250.85 L704.94 250.86 L704.95 250.87 L704.98 250.88 L705.37 251.10 L705.40 251.12 L705.40 251.12 L705.43 251.13 L705.81 251.36 L705.84 251.38 L705.85 251.38 L705.87 251.40 L706.25 251.64 L706.27 251.66 L706.28 251.67 L706.31 251.68 L706.67 251.94 L706.70 251.95 L706.71 251.96 L706.73 251.98 L707.09 252.24 L707.12 252.26 L707.12 252.27 L707.15 252.29 L707.50 252.56 L707.52 252.58 L707.53 252.59 L707.55 252.61 L707.89 252.90 L707.91 252.92 L707.92 252.92 L707.94 252.94 L708.27 253.24 L708.30 253.27 L708.30 253.27 L708.33 253.29 L708.65 253.60 L708.67 253.63 L708.67 253.63 L708.70 253.65 L709.01 253.97 L709.03 254.00 L709.03 254.00 L709.06 254.03 L709.36 254.36 L709.38 254.38 L709.38 254.39 L709.40 254.41 L709.69 254.75 L709.71 254.77 L709.72 254.78 L709.74 254.80 L710.01 255.15 L710.03 255.18 L710.04 255.18 L710.06 255.21 L710.32 255.57 L710.34 255.59 L710.35 255.60 L710.36 255.63 L710.62 255.99 L710.63 256.02 L710.64 256.03 L710.66 256.05 L710.90 256.43 L710.92 256.45 L710.92 256.46 L710.94 256.49 L711.17 256.87 L711.18 256.90 L711.18 256.90 L711.20 256.93 L711.42 257.32 L711.43 257.35 L711.44 257.36 L711.45 257.38 L711.65 257.78 L711.67 257.81 L711.67 257.82 L711.69 257.84 L711.88 258.25 L711.89 258.28 L711.89 258.28 L711.91 258.31 L712.08 258.72 L712.10 258.75 L712.10 258.76 L712.11 258.79 L712.27 259.20 L712.29 259.23 L712.29 259.24 L712.30 259.27 L712.45 259.69 L712.46 259.72 L712.46 259.73 L712.47 259.75 L712.61 260.18 L712.62 260.21 L712.62 260.22 L712.63 260.25 L712.75 260.68 L712.76 260.71 L712.76 260.71 L712.77 260.74 L712.88 261.18 L712.89 261.21 L712.89 261.22 L712.89 261.25 L712.99 261.68 L713.00 261.71 L713.00 261.72 L713.00 261.75 L713.08 262.19 L713.09 262.22 L713.09 262.23 L713.09 262.26 L713.16 262.70 L713.16 262.73 L713.17 262.74 L713.17 262.77 L713.22 263.22 L713.22 263.25 L713.22 263.26 L713.23 263.29 L713.26 263.73 L713.27 263.76 L713.27 263.77 L713.27 263.80 L713.29 264.25 L713.29 264.28 L713.29 264.29 L713.29 264.32 L713.30 264.76 L713.30 264.80 L713.30 264.80 L713.30 264.84 L713.29 265.28 L713.29 265.31 L713.29 265.32 L713.29 265.35 L713.27 265.80 L713.27 265.83 L713.27 265.84 L713.26 265.87 L713.23 266.31 L713.22 266.34 L713.22 266.35 L713.22 266.38 L713.17 266.83 L713.17 266.86 L713.16 266.87 L713.16 266.90 L713.09 267.34 L713.09 267.37 L713.09 267.38 L713.08 267.41 L713.00 267.85 L713.00 267.88 L713.00 267.89 L712.99 267.92 L712.89 268.35 L712.89 268.38 L712.89 268.39 L712.88 268.42 L712.77 268.86 L712.76 268.89 L712.76 268.89 L712.75 268.92 L712.69 269.15 L712.66 269.25 L712.60 269.58 L712.59 269.77 L712.60 270.06 L712.62 270.25 L712.68 270.53 L712.75 270.71 L712.86 270.98 L712.96 271.14 L713.13 271.38 L713.26 271.52 L713.50 271.75 L713.58 271.81 L713.82 271.99 L713.90 272.05 L714.21 272.23 L714.40 272.32 L714.69 272.41 L714.89 272.46 L715.25 272.49 L715.35 272.50 L740.24 272.50 L740.34 272.50 L740.67 272.46 L740.85 272.42 L741.12 272.34 L741.30 272.27 L741.55 272.13 L741.71 272.03 L741.93 271.84 L742.06 271.71 L742.24 271.49 L742.34 271.33 L742.47 271.08 L742.54 270.90 L742.62 270.63 L742.66 270.44 L742.68 270.11 L742.69 270.01 L742.68 269.37 L742.68 269.35 L742.67 269.29 L742.67 269.27 L742.61 267.89 L742.60 267.88 L742.60 267.81 L742.60 267.80 L742.49 266.42 L742.48 266.40 L742.48 266.34 L742.48 266.32 L742.32 264.95 L742.32 264.93 L742.31 264.87 L742.31 264.85 L742.10 263.48 L742.10 263.47 L742.09 263.41 L742.09 263.39 L741.84 262.03 L741.84 262.01 L741.82 261.95 L741.82 261.94 L741.53 260.58 L741.53 260.57 L741.51 260.51 L741.51 260.49 L741.17 259.15 L741.17 259.13 L741.15 259.07 L741.15 259.06 L740.77 257.72 L740.76 257.71 L740.74 257.65 L740.74 257.63 L740.32 256.32 L740.31 256.30 L740.29 256.24 L740.29 256.23 L739.82 254.92 L739.81 254.91 L739.79 254.85 L739.79 254.83 L739.28 253.55 L739.27 253.53 L739.25 253.47 L739.24 253.46 L738.69 252.19 L738.68 252.17 L738.66 252.12 L738.65 252.10 L738.06 250.85 L738.05 250.84 L738.02 250.78 L738.02 250.77 L737.38 249.53 L737.38 249.52 L737.35 249.47 L737.34 249.45 L736.67 248.24 L736.66 248.23 L736.63 248.17 L736.62 248.16 L735.91 246.97 L735.90 246.96 L735.87 246.90 L735.86 246.89 L735.11 245.73 L735.10 245.71 L735.06 245.66 L735.06 245.65 L734.27 244.51 L734.26 244.50 L734.22 244.45 L734.21 244.43 L733.39 243.32 L733.38 243.31 L733.34 243.26 L733.33 243.25 L732.47 242.16 L732.46 242.15 L732.42 242.10 L732.41 242.09 L731.51 241.03 L731.50 241.02 L731.46 240.97 L731.45 240.96 L730.52 239.94 L730.51 239.92 L730.47 239.88 L730.46 239.87 L729.49 238.87 L729.48 238.86 L729.44 238.82 L729.43 238.81 L728.43 237.84 L728.42 237.83 L728.38 237.79 L728.36 237.78 L727.34 236.85 L727.33 236.84 L727.28 236.80 L727.27 236.79 L726.21 235.89 L726.20 235.88 L726.15 235.84 L726.14 235.83 L725.05 234.97 L725.04 234.96 L724.99 234.92 L724.98 234.91 L723.87 234.09 L723.85 234.08 L723.80 234.04 L723.79 234.03 L722.65 233.24 L722.64 233.24 L722.59 233.20 L722.57 233.19 L721.41 232.44 L721.40 232.43 L721.34 232.40 L721.33 232.39 L720.14 231.68 L720.13 231.67 L720.07 231.64 L720.06 231.63 L718.85 230.96 L718.83 230.95 L718.78 230.92 L718.77 230.92 L717.53 230.28 L717.52 230.28 L717.46 230.25 L717.45 230.24 L716.20 229.65 L716.18 229.64 L716.13 229.62 L716.11 229.61 L714.84 229.06 L714.83 229.05 L714.77 229.03 L714.75 229.02 L713.47 228.51 L713.45 228.51 L713.39 228.49 L713.38 228.48 L712.07 228.01 L712.06 228.01 L712.00 227.99 L711.98 227.98 L710.67 227.56 L710.65 227.56 L710.59 227.54 L710.58 227.53 L709.24 227.15 L709.23 227.15 L709.17 227.13 L709.15 227.13 L707.81 226.79 L707.79 226.79 L707.73 226.77 L707.72 226.77 L706.36 226.48 L706.35 226.48 L706.29 226.46 L706.27 226.46 L705.78 226.37 Z" stroke="#151515" stroke-width="1.0" fill="none" stroke-linejoin="round" stroke-linecap="round" />
<path d="M705.20 228.83 L705.20 248.25 L705.21 248.38 L705.22 248.39 L705.22 248.41 L705.23 248.42 L705.25 248.43 L705.36 248.50 L705.44 248.54 L705.46 248.54 L705.48 248.56 L705.50 248.57 L705.51 248.57 L705.53 248.58 L705.55 248.59 L705.57 248.60 L705.97 248.80 L705.98 248.81 L706.01 248.83 L706.03 248.84 L706.04 248.84 L706.05 248.85 L706.08 248.86 L706.10 248.87 L706.49 249.09 L706.50 249.10 L706.53 249.11 L706.55 249.12 L706.55 249.13 L706.57 249.14 L706.60 249.15 L706.61 249.16 L707.00 249.39 L707.01 249.40 L707.04 249.42 L707.05 249.43 L707.06 249.43 L707.08 249.44 L707.10 249.46 L707.12 249.47 L707.49 249.71 L707.51 249.72 L707.54 249.74 L707.55 249.75 L707.56 249.75 L707.57 249.76 L707.60 249.78 L707.62 249.79 L707.98 250.05 L708.00 250.06 L708.02 250.07 L708.04 250.09 L708.05 250.09 L708.06 250.10 L708.09 250.12 L708.10 250.13 L708.46 250.40 L708.48 250.41 L708.50 250.43 L708.52 250.44 L708.52 250.44 L708.54 250.45 L708.56 250.47 L708.58 250.49 L708.93 250.76 L708.94 250.77 L708.96 250.79 L708.98 250.81 L708.99 250.81 L709.00 250.82 L709.02 250.84 L709.04 250.86 L709.38 251.14 L709.39 251.16 L709.42 251.18 L709.43 251.19 L709.44 251.19 L709.45 251.21 L709.47 251.23 L709.49 251.24 L709.82 251.54 L709.83 251.55 L709.86 251.57 L709.87 251.59 L709.88 251.59 L709.89 251.61 L709.91 251.63 L709.93 251.64 L710.25 251.95 L710.26 251.96 L710.28 251.99 L710.30 252.00 L710.30 252.00 L710.31 252.02 L710.34 252.04 L710.35 252.05 L710.66 252.37 L710.67 252.39 L710.69 252.41 L710.71 252.42 L710.71 252.43 L710.73 252.44 L710.75 252.47 L710.76 252.48 L711.06 252.81 L711.07 252.83 L711.09 252.85 L711.11 252.86 L711.11 252.87 L711.12 252.88 L711.14 252.91 L711.16 252.92 L711.44 253.26 L711.46 253.28 L711.48 253.30 L711.49 253.31 L711.49 253.32 L711.51 253.34 L711.53 253.36 L711.54 253.37 L711.81 253.72 L711.83 253.74 L711.85 253.76 L711.86 253.78 L711.86 253.78 L711.87 253.80 L711.89 253.82 L711.90 253.84 L712.17 254.20 L712.18 254.21 L712.20 254.24 L712.21 254.25 L712.21 254.26 L712.23 254.28 L712.24 254.30 L712.25 254.32 L712.51 254.68 L712.52 254.70 L712.54 254.73 L712.55 254.74 L712.55 254.75 L712.56 254.76 L712.58 254.79 L712.59 254.81 L712.83 255.18 L712.84 255.20 L712.86 255.22 L712.87 255.24 L712.87 255.25 L712.88 255.26 L712.90 255.29 L712.91 255.30 L713.14 255.69 L713.15 255.70 L713.16 255.73 L713.17 255.75 L713.18 255.75 L713.19 255.77 L713.20 255.80 L713.21 255.81 L713.43 256.20 L713.44 256.22 L713.45 256.25 L713.46 256.26 L713.46 256.27 L713.47 256.29 L713.49 256.32 L713.50 256.33 L713.70 256.73 L713.71 256.75 L713.72 256.77 L713.73 256.79 L713.73 256.80 L713.74 256.82 L713.76 256.84 L713.76 256.86 L713.96 257.26 L713.96 257.28 L713.98 257.31 L713.98 257.33 L713.99 257.33 L714.00 257.35 L714.01 257.38 L714.02 257.40 L714.19 257.81 L714.20 257.82 L714.21 257.85 L714.22 257.87 L714.22 257.88 L714.23 257.89 L714.24 257.92 L714.25 257.94 L714.41 258.36 L714.42 258.37 L714.43 258.40 L714.44 258.42 L714.44 258.43 L714.45 258.45 L714.46 258.48 L714.46 258.49 L714.62 258.91 L714.62 258.93 L714.63 258.96 L714.64 258.98 L714.64 258.99 L714.65 259.00 L714.66 259.03 L714.66 259.05 L714.80 259.48 L714.80 259.49 L714.81 259.52 L714.82 259.54 L714.82 259.55 L714.83 259.57 L714.84 259.60 L714.84 259.62 L714.96 260.05 L714.97 260.06 L714.98 260.09 L714.98 260.11 L714.98 260.12 L714.99 260.14 L715.00 260.17 L715.00 260.19 L715.11 260.62 L715.11 260.64 L715.12 260.67 L715.13 260.69 L715.13 260.69 L715.13 260.71 L715.14 260.74 L715.14 260.76 L715.24 261.20 L715.24 261.22 L715.25 261.25 L715.25 261.27 L715.25 261.27 L715.26 261.29 L715.26 261.32 L715.27 261.34 L715.35 261.78 L715.35 261.80 L715.35 261.83 L715.36 261.85 L715.36 261.86 L715.36 261.87 L715.37 261.91 L715.37 261.92 L715.43 262.37 L715.44 262.38 L715.44 262.41 L715.44 262.43 L715.45 262.44 L715.45 262.46 L715.45 262.49 L715.45 262.51 L715.50 262.95 L715.51 262.97 L715.51 263.00 L715.51 263.02 L715.51 263.03 L715.51 263.05 L715.52 263.08 L715.52 263.10 L715.56 263.54 L715.56 263.56 L715.56 263.59 L715.56 263.61 L715.56 263.62 L715.56 263.64 L715.56 263.67 L715.57 263.69 L715.59 264.13 L715.59 264.15 L715.59 264.19 L715.59 264.20 L715.59 264.21 L715.59 264.23 L715.59 264.26 L715.59 264.28 L715.60 264.73 L715.60 264.75 L715.60 264.78 L715.60 264.80 L715.60 264.80 L715.60 264.82 L715.60 264.85 L715.60 264.87 L715.59 265.32 L715.59 265.34 L715.59 265.37 L715.59 265.39 L715.59 265.40 L715.59 265.41 L715.59 265.45 L715.59 265.47 L715.57 265.91 L715.56 265.93 L715.56 265.96 L715.56 265.98 L715.56 265.99 L715.56 266.01 L715.56 266.04 L715.56 266.06 L715.52 266.50 L715.52 266.52 L715.51 266.55 L715.51 266.57 L715.51 266.58 L715.51 266.60 L715.51 266.63 L715.50 266.65 L715.45 267.09 L715.45 267.11 L715.45 267.14 L715.45 267.16 L715.44 267.17 L715.44 267.19 L715.44 267.22 L715.43 267.23 L715.37 267.68 L715.37 267.69 L715.36 267.73 L715.36 267.74 L715.36 267.75 L715.35 267.77 L715.35 267.80 L715.35 267.82 L715.27 268.26 L715.26 268.28 L715.26 268.31 L715.25 268.33 L715.25 268.33 L715.25 268.35 L715.24 268.38 L715.24 268.40 L715.14 268.84 L715.14 268.86 L715.13 268.89 L715.13 268.91 L715.13 268.91 L715.12 268.93 L715.11 268.96 L715.11 268.98 L715.00 269.41 L715.00 269.43 L714.99 269.46 L714.98 269.48 L714.98 269.49 L714.98 269.51 L714.97 269.54 L714.96 269.55 L714.92 269.72 L714.89 269.85 L714.89 269.87 L714.90 269.89 L714.90 269.90 L714.91 269.92 L715.01 270.01 L715.14 270.11 L715.26 270.18 L715.28 270.18 L715.42 270.20 L740.17 270.20 L740.31 270.19 L740.32 270.18 L740.34 270.17 L740.35 270.16 L740.36 270.15 L740.37 270.13 L740.38 270.12 L740.39 269.98 L740.38 269.42 L740.38 269.38 L740.31 268.02 L740.31 267.98 L740.20 266.62 L740.19 266.58 L740.04 265.23 L740.03 265.19 L739.83 263.84 L739.82 263.80 L739.58 262.46 L739.57 262.42 L739.28 261.08 L739.28 261.04 L738.94 259.72 L738.93 259.68 L738.56 258.37 L738.55 258.33 L738.13 257.04 L738.12 257.00 L737.66 255.71 L737.64 255.68 L737.14 254.41 L737.13 254.37 L736.59 253.12 L736.57 253.08 L735.99 251.85 L735.97 251.81 L735.35 250.60 L735.33 250.56 L734.67 249.37 L734.64 249.34 L733.94 248.17 L733.92 248.13 L733.18 246.99 L733.16 246.95 L732.39 245.83 L732.36 245.80 L731.55 244.71 L731.53 244.67 L730.68 243.61 L730.65 243.57 L729.77 242.53 L729.74 242.50 L728.83 241.49 L728.80 241.46 L727.85 240.48 L727.82 240.46 L726.84 239.51 L726.82 239.48 L725.81 238.56 L725.77 238.54 L724.74 237.66 L724.70 237.63 L723.64 236.78 L723.60 236.76 L722.51 235.94 L722.48 235.92 L721.36 235.15 L721.32 235.12 L720.18 234.38 L720.14 234.36 L718.97 233.66 L718.94 233.64 L717.75 232.98 L717.71 232.96 L716.50 232.34 L716.46 232.32 L715.23 231.74 L715.19 231.72 L713.94 231.18 L713.90 231.16 L712.64 230.66 L712.60 230.65 L711.31 230.19 L711.28 230.17 L709.98 229.76 L709.94 229.74 L708.63 229.37 L708.59 229.36 L707.27 229.03 L707.23 229.02 L705.90 228.73 L705.85 228.72 L705.43 228.64 L705.30 228.63 L705.28 228.64 L705.27 228.64 L705.25 228.65 L705.24 228.66 L705.23 228.67 L705.22 228.69 L705.21 228.71 L705.20 228.83 Z" stroke="#151515" stroke-width="0.7" fill="none" stroke-linejoin="round" stroke-linecap="round" />
<path d="M703.00 313.62 L703.00 313.72 L703.04 314.04 L703.07 314.22 L703.15 314.49 L703.22 314.66 L703.35 314.91 L703.46 315.07 L703.63 315.28 L703.76 315.42 L703.98 315.59 L704.13 315.70 L704.38 315.83 L704.55 315.91 L704.81 315.99 L704.99 316.03 L705.27 316.06 L705.46 316.06 L705.78 316.04 L705.88 316.02 L706.29 315.95 L706.31 315.94 L706.37 315.93 L706.39 315.93 L707.73 315.64 L707.74 315.64 L707.80 315.62 L707.82 315.62 L709.15 315.28 L709.16 315.28 L709.23 315.26 L709.24 315.26 L710.56 314.88 L710.57 314.88 L710.63 314.86 L710.65 314.86 L711.96 314.44 L711.97 314.43 L712.03 314.41 L712.04 314.41 L713.34 313.94 L713.35 313.94 L713.41 313.92 L713.42 313.91 L714.70 313.41 L714.71 313.40 L714.77 313.38 L714.79 313.37 L716.05 312.83 L716.06 312.82 L716.12 312.79 L716.13 312.79 L717.37 312.20 L717.39 312.19 L717.44 312.17 L717.46 312.16 L718.68 311.53 L718.69 311.52 L718.75 311.49 L718.76 311.49 L719.96 310.82 L719.97 310.81 L720.03 310.78 L720.04 310.77 L721.22 310.07 L721.23 310.06 L721.28 310.03 L721.30 310.02 L722.45 309.28 L722.46 309.27 L722.52 309.23 L722.53 309.22 L723.15 308.79 L723.23 308.74 L723.48 308.52 L723.61 308.39 L723.78 308.17 L723.88 308.01 L724.01 307.76 L724.08 307.58 L724.16 307.31 L724.19 307.13 L724.22 306.85 L724.21 306.66 L724.18 306.38 L724.14 306.20 L724.05 305.93 L723.98 305.76 L723.84 305.51 L723.74 305.35 L723.55 305.14 L723.42 305.01 L723.16 304.80 L723.08 304.75 L722.87 304.61 L722.85 304.60 L722.84 304.59 L722.82 304.57 L722.31 304.23 L722.29 304.21 L722.28 304.20 L722.26 304.19 L721.77 303.82 L721.74 303.80 L721.73 303.80 L721.71 303.78 L721.23 303.40 L721.21 303.38 L721.20 303.38 L721.18 303.36 L720.71 302.96 L720.69 302.94 L720.68 302.94 L720.66 302.91 L720.21 302.50 L720.18 302.48 L720.18 302.48 L720.16 302.46 L719.72 302.03 L719.70 302.01 L719.69 302.00 L719.67 301.98 L719.24 301.54 L719.22 301.52 L719.22 301.52 L719.20 301.49 L718.79 301.04 L718.76 301.02 L718.76 301.01 L718.74 300.99 L718.34 300.52 L718.32 300.50 L718.32 300.49 L718.30 300.47 L717.92 299.99 L717.90 299.97 L717.90 299.96 L717.88 299.93 L717.51 299.44 L717.50 299.42 L717.49 299.41 L717.47 299.39 L717.13 298.88 L717.11 298.86 L717.10 298.85 L717.09 298.83 L716.76 298.31 L716.74 298.29 L716.73 298.28 L716.72 298.25 L716.40 297.73 L716.39 297.70 L716.38 297.70 L716.37 297.67 L716.07 297.14 L716.06 297.11 L716.05 297.10 L716.04 297.07 L715.76 296.53 L715.75 296.50 L715.74 296.50 L715.73 296.47 L715.47 295.92 L715.46 295.89 L715.45 295.88 L715.44 295.85 L715.20 295.29 L715.19 295.26 L715.18 295.26 L715.17 295.23 L714.95 294.66 L714.93 294.63 L714.93 294.62 L714.92 294.59 L714.72 294.02 L714.71 293.99 L714.70 293.98 L714.69 293.95 L714.51 293.37 L714.50 293.34 L714.49 293.33 L714.49 293.30 L714.32 292.72 L714.31 292.69 L714.31 292.68 L714.30 292.65 L714.15 292.06 L714.14 292.03 L714.14 292.02 L714.14 291.99 L714.01 291.39 L714.00 291.36 L714.00 291.35 L713.99 291.32 L713.88 290.72 L713.88 290.69 L713.88 290.68 L713.87 290.65 L713.78 290.05 L713.78 290.02 L713.78 290.01 L713.77 289.98 L713.70 289.37 L713.70 289.34 L713.70 289.33 L713.70 289.30 L713.65 288.70 L713.65 288.66 L713.64 288.66 L713.64 288.63 L713.61 288.02 L713.61 287.98 L713.61 287.98 L713.61 287.95 L713.60 287.34 L713.60 287.30 L713.60 287.30 L713.60 287.26 L713.61 286.65 L713.61 286.62 L713.61 286.62 L713.61 286.58 L713.64 285.97 L713.64 285.94 L713.65 285.94 L713.65 285.90 L713.70 285.30 L713.70 285.27 L713.70 285.26 L713.70 285.23 L713.77 284.62 L713.78 284.59 L713.78 284.58 L713.78 284.55 L713.87 283.95 L713.88 283.92 L713.88 283.91 L713.88 283.88 L713.99 283.28 L714.00 283.25 L714.00 283.24 L714.01 283.21 L714.14 282.61 L714.14 282.58 L714.14 282.57 L714.15 282.54 L714.30 281.95 L714.31 281.92 L714.31 281.91 L714.32 281.88 L714.49 281.30 L714.49 281.27 L714.50 281.26 L714.51 281.23 L714.65 280.78 L714.67 280.69 L714.74 280.38 L714.76 280.20 L714.77 279.93 L714.76 279.75 L714.72 279.49 L714.67 279.31 L714.58 279.06 L714.50 278.90 L714.37 278.66 L714.26 278.52 L714.08 278.32 L713.95 278.19 L713.74 278.03 L713.58 277.93 L713.34 277.81 L713.18 277.74 L712.92 277.67 L712.74 277.63 L712.43 277.60 L712.34 277.60 L705.45 277.60 L705.35 277.60 L705.03 277.64 L704.84 277.67 L704.57 277.76 L704.40 277.83 L704.15 277.96 L703.99 278.06 L703.78 278.24 L703.64 278.38 L703.46 278.59 L703.36 278.75 L703.23 279.00 L703.16 279.17 L703.07 279.44 L703.04 279.63 L703.00 279.95 L703.00 280.05 L703.00 313.62 Z" stroke="#151515" stroke-width="1.0" fill="none" stroke-linejoin="round" stroke-linecap="round" />
<path d="M705.30 280.11 L705.30 313.56 L705.31 313.69 L705.32 313.70 L705.33 313.72 L705.34 313.73 L705.35 313.74 L705.37 313.75 L705.38 313.76 L705.40 313.76 L705.53 313.75 L705.87 313.69 L705.91 313.68 L707.22 313.40 L707.26 313.39 L708.57 313.06 L708.61 313.05 L709.91 312.68 L709.95 312.67 L711.24 312.25 L711.27 312.24 L712.55 311.78 L712.58 311.77 L713.84 311.27 L713.88 311.26 L715.12 310.72 L715.15 310.71 L716.37 310.13 L716.41 310.11 L717.61 309.49 L717.65 309.47 L718.83 308.82 L718.86 308.80 L720.02 308.10 L720.05 308.08 L721.19 307.35 L721.22 307.33 L721.79 306.94 L721.89 306.85 L721.90 306.84 L721.91 306.82 L721.91 306.81 L721.91 306.79 L721.91 306.77 L721.90 306.76 L721.90 306.74 L721.89 306.73 L721.78 306.65 L721.63 306.55 L721.61 306.54 L721.59 306.52 L721.57 306.51 L721.56 306.50 L721.55 306.49 L721.52 306.48 L721.51 306.47 L721.00 306.12 L720.99 306.11 L720.96 306.09 L720.95 306.08 L720.94 306.07 L720.93 306.06 L720.90 306.04 L720.89 306.03 L720.40 305.67 L720.38 305.66 L720.36 305.64 L720.34 305.63 L720.33 305.62 L720.32 305.61 L720.30 305.59 L720.28 305.58 L719.80 305.20 L719.79 305.19 L719.76 305.17 L719.75 305.16 L719.74 305.15 L719.73 305.14 L719.70 305.12 L719.69 305.11 L719.22 304.71 L719.21 304.70 L719.19 304.68 L719.17 304.67 L719.17 304.66 L719.15 304.65 L719.13 304.63 L719.11 304.62 L718.66 304.21 L718.65 304.20 L718.63 304.18 L718.61 304.16 L718.61 304.16 L718.59 304.14 L718.57 304.12 L718.56 304.11 L718.12 303.69 L718.10 303.67 L718.08 303.65 L718.07 303.64 L718.06 303.63 L718.05 303.62 L718.03 303.60 L718.01 303.58 L717.59 303.14 L717.58 303.13 L717.56 303.11 L717.54 303.09 L717.54 303.09 L717.52 303.07 L717.50 303.05 L717.49 303.04 L717.08 302.59 L717.07 302.57 L717.05 302.55 L717.04 302.53 L717.03 302.53 L717.02 302.51 L717.00 302.49 L716.99 302.48 L716.59 302.01 L716.58 302.00 L716.56 301.97 L716.55 301.96 L716.54 301.95 L716.53 301.94 L716.51 301.91 L716.50 301.90 L716.12 301.42 L716.11 301.40 L716.09 301.38 L716.08 301.37 L716.07 301.36 L716.06 301.34 L716.04 301.32 L716.03 301.30 L715.67 300.81 L715.66 300.80 L715.64 300.77 L715.63 300.76 L715.62 300.75 L715.61 300.74 L715.59 300.71 L715.58 300.70 L715.23 300.19 L715.22 300.18 L715.21 300.15 L715.20 300.14 L715.19 300.13 L715.18 300.11 L715.16 300.09 L715.15 300.07 L714.82 299.56 L714.81 299.54 L714.80 299.52 L714.79 299.50 L714.78 299.49 L714.77 299.48 L714.76 299.45 L714.75 299.44 L714.43 298.91 L714.42 298.90 L714.41 298.87 L714.40 298.85 L714.39 298.85 L714.38 298.83 L714.37 298.80 L714.36 298.79 L714.06 298.25 L714.05 298.24 L714.04 298.21 L714.03 298.19 L714.03 298.19 L714.02 298.17 L714.00 298.14 L713.99 298.12 L713.72 297.58 L713.71 297.57 L713.69 297.54 L713.68 297.52 L713.68 297.51 L713.67 297.50 L713.66 297.47 L713.65 297.45 L713.39 296.90 L713.38 296.88 L713.37 296.85 L713.36 296.84 L713.36 296.83 L713.35 296.81 L713.34 296.78 L713.33 296.77 L713.09 296.21 L713.08 296.19 L713.07 296.16 L713.06 296.14 L713.06 296.14 L713.05 296.12 L713.04 296.09 L713.03 296.07 L712.81 295.50 L712.80 295.49 L712.79 295.46 L712.78 295.44 L712.78 295.43 L712.77 295.42 L712.76 295.39 L712.76 295.37 L712.55 294.79 L712.54 294.78 L712.53 294.75 L712.53 294.73 L712.52 294.72 L712.52 294.70 L712.51 294.67 L712.50 294.66 L712.32 294.08 L712.31 294.06 L712.30 294.03 L712.30 294.01 L712.29 294.00 L712.29 293.98 L712.28 293.95 L712.27 293.94 L712.11 293.35 L712.10 293.33 L712.09 293.30 L712.09 293.28 L712.09 293.27 L712.08 293.26 L712.07 293.23 L712.07 293.21 L711.92 292.62 L711.92 292.60 L711.91 292.57 L711.90 292.55 L711.90 292.54 L711.90 292.52 L711.89 292.49 L711.89 292.47 L711.76 291.88 L711.76 291.86 L711.75 291.83 L711.74 291.81 L711.74 291.80 L711.74 291.78 L711.73 291.75 L711.73 291.73 L711.62 291.13 L711.62 291.12 L711.61 291.09 L711.61 291.07 L711.61 291.06 L711.61 291.04 L711.60 291.01 L711.60 290.99 L711.51 290.39 L711.51 290.37 L711.50 290.34 L711.50 290.32 L711.50 290.31 L711.50 290.29 L711.49 290.26 L711.49 290.24 L711.42 289.64 L711.42 289.62 L711.41 289.59 L711.41 289.57 L711.41 289.56 L711.41 289.54 L711.41 289.51 L711.40 289.49 L711.36 288.88 L711.35 288.86 L711.35 288.83 L711.35 288.81 L711.35 288.81 L711.35 288.79 L711.35 288.76 L711.35 288.74 L711.32 288.13 L711.31 288.11 L711.31 288.08 L711.31 288.06 L711.31 288.05 L711.31 288.03 L711.31 288.00 L711.31 287.98 L711.30 287.37 L711.30 287.35 L711.30 287.32 L711.30 287.30 L711.30 287.30 L711.30 287.28 L711.30 287.25 L711.30 287.23 L711.31 286.62 L711.31 286.60 L711.31 286.57 L711.31 286.55 L711.31 286.54 L711.31 286.52 L711.31 286.49 L711.32 286.47 L711.35 285.86 L711.35 285.84 L711.35 285.81 L711.35 285.79 L711.35 285.79 L711.35 285.77 L711.35 285.74 L711.36 285.72 L711.40 285.11 L711.41 285.09 L711.41 285.06 L711.41 285.04 L711.41 285.03 L711.41 285.01 L711.42 284.98 L711.42 284.96 L711.49 284.36 L711.49 284.34 L711.50 284.31 L711.50 284.29 L711.50 284.28 L711.50 284.26 L711.51 284.23 L711.51 284.21 L711.60 283.61 L711.60 283.59 L711.61 283.56 L711.61 283.54 L711.61 283.53 L711.61 283.51 L711.62 283.48 L711.62 283.47 L711.73 282.87 L711.73 282.85 L711.74 282.82 L711.74 282.80 L711.74 282.79 L711.75 282.77 L711.76 282.74 L711.76 282.72 L711.89 282.13 L711.89 282.11 L711.90 282.08 L711.90 282.06 L711.90 282.05 L711.91 282.03 L711.92 282.00 L711.92 281.98 L712.07 281.39 L712.07 281.37 L712.08 281.34 L712.09 281.33 L712.09 281.32 L712.09 281.30 L712.10 281.27 L712.11 281.25 L712.27 280.66 L712.28 280.65 L712.29 280.62 L712.29 280.60 L712.30 280.59 L712.30 280.57 L712.31 280.54 L712.32 280.52 L712.44 280.13 L712.47 280.01 L712.47 279.99 L712.47 279.98 L712.46 279.96 L712.45 279.95 L712.44 279.93 L712.43 279.92 L712.41 279.92 L712.40 279.91 L712.27 279.90 L705.51 279.90 L705.38 279.91 L705.37 279.92 L705.35 279.93 L705.34 279.94 L705.33 279.95 L705.32 279.97 L705.31 279.98 L705.30 280.11 Z" stroke="#151515" stroke-width="0.7" fill="none" stroke-linejoin="round" stroke-linecap="round" />
<path d="M692.2 253 L692.2 244.5 Q692.2 241.4 696.9 241.4 Q701.6 241.4 701.6 244.5 L701.6 253" stroke="#151515" stroke-width="1.4" fill="none" stroke-linejoin="round" stroke-linecap="round" />
<path d="M692.2 277 L692.2 284.5 Q692.2 288 696.9 288 Q701.6 288 701.6 284.5 L701.6 277" stroke="#151515" stroke-width="1.4" fill="none" stroke-linejoin="round" stroke-linecap="round" />
<circle cx="697.50" cy="264.80" r="13.00" stroke="#151515" stroke-width="1.1" fill="none"/>
<circle cx="697.50" cy="264.80" r="8.30" stroke="#151515" stroke-width="0.9" fill="none"/>
<circle cx="697.50" cy="264.80" r="7.20" stroke="#3a3a3a" stroke-width="0.5" fill="none"/>
<circle cx="697.50" cy="264.80" r="5.50" stroke="#151515" stroke-width="0.9" fill="none"/>
<line x1="690.00" y1="264.80" x2="705.00" y2="264.80" stroke="#3a3a3a" stroke-width="0.35" />
<path d="M645.50 284.30 C646.17 285.67 647.70 288.83 649.50 292.50 C651.30 296.17 653.08 302.13 656.30 306.30 C659.52 310.47 664.63 314.58 668.80 317.50 C672.97 320.42 678.18 321.72 681.30 323.80 C684.42 325.88 686.05 327.72 687.50 330.00 C688.95 332.28 688.95 335.23 690.00 337.50 C691.05 339.77 692.53 342.32 693.80 343.60 C695.07 344.88 696.32 345.22 697.60 345.20 C698.88 345.18 700.27 344.37 701.50 343.50 C702.73 342.63 703.58 341.20 705.00 340.00 C706.42 338.80 708.50 337.03 710.00 336.30 C711.50 335.57 713.33 335.72 714.00 335.60" stroke="#151515" stroke-width="0.95" fill="none" stroke-linejoin="round" stroke-linecap="round" />
<path d="M642.00 286.50 C642.72 287.75 644.38 290.45 646.30 294.00 C648.22 297.55 650.05 303.55 653.50 307.80 C656.95 312.05 662.67 316.50 667.00 319.50 C671.33 322.50 676.43 323.83 679.50 325.80 C682.57 327.77 684.02 329.18 685.40 331.30 C686.78 333.42 686.67 336.15 687.80 338.50 C688.93 340.85 690.57 343.92 692.20 345.40 C693.83 346.88 695.80 347.43 697.60 347.40 C699.40 347.37 701.52 346.13 703.00 345.20 C704.48 344.27 705.17 342.93 706.50 341.80 C707.83 340.67 709.42 339.07 711.00 338.40 C712.58 337.73 715.17 337.90 716.00 337.80" stroke="#151515" stroke-width="0.95" fill="none" stroke-linejoin="round" stroke-linecap="round" />
<circle cx="697.60" cy="336.60" r="3.00" stroke="#151515" stroke-width="0.9" fill="#2a2a2a"/>
<path d="M709.00 271.50 C709.83 271.83 712.42 272.17 714.00 273.50 C715.58 274.83 717.75 278.50 718.50 279.50" stroke="#151515" stroke-width="0.95" fill="none" stroke-linejoin="round" stroke-linecap="round" />
<circle cx="715.60" cy="327.80" r="7.60" stroke="#151515" stroke-width="1.0" fill="none"/>
<circle cx="715.60" cy="327.80" r="4.40" stroke="#151515" stroke-width="0.8" fill="none"/>
<path d="M723.12 325.06 C723.20 325.52 723.60 326.89 723.60 327.80 C723.60 328.71 723.43 329.68 723.12 330.54 C722.81 331.39 722.31 332.24 721.73 332.94 C721.14 333.64 720.39 334.27 719.60 334.73 C718.81 335.18 717.89 335.52 716.99 335.68 C716.09 335.84 715.11 335.84 714.21 335.68 C713.31 335.52 712.39 335.18 711.60 334.73 C710.81 334.27 709.83 333.24 709.47 332.94" stroke="#151515" stroke-width="2.0" fill="none" stroke-linejoin="round" stroke-linecap="round" />
<line x1="708.00" y1="327.80" x2="723.50" y2="327.80" stroke="#3a3a3a" stroke-width="0.35" />
<line x1="715.60" y1="320.00" x2="715.60" y2="335.50" stroke="#3a3a3a" stroke-width="0.35" />
<path d="M718.80 337.30 C719.83 337.02 722.93 335.98 725.00 335.60 C727.07 335.22 729.37 334.90 731.20 335.00 C733.03 335.10 734.53 335.70 736.00 336.20 C737.47 336.70 739.33 337.70 740.00 338.00" stroke="#151515" stroke-width="0.95" fill="none" stroke-linejoin="round" stroke-linecap="round" />
<path d="M722.30 320.80 C722.75 319.83 723.80 316.63 725.00 315.00 C726.20 313.37 728.75 311.67 729.50 311.00" stroke="#151515" stroke-width="0.95" fill="none" stroke-linejoin="round" stroke-linecap="round" />
<circle cx="734.40" cy="287.30" r="18.50" stroke="#151515" stroke-width="2.4" fill="#fff"/>
<circle cx="734.40" cy="287.30" r="13.80" stroke="#151515" stroke-width="0.9" fill="none"/>
<circle cx="734.40" cy="287.30" r="16.20" stroke="#3a3a3a" stroke-width="0.45" fill="none"/>
<line x1="711.00" y1="287.40" x2="758.00" y2="287.40" stroke="#3a3a3a" stroke-width="0.4" />
<line x1="732.80" y1="262.00" x2="732.80" y2="377.00" stroke="#3a3a3a" stroke-width="0.45" />
<line x1="722.00" y1="280.50" x2="734.40" y2="287.30" stroke="#3a3a3a" stroke-width="0.4" />
<path d="M725.7 271 L725.9 256.2 Q727.9 254.4 729.9 256.2 L730.2 266 L732 268.5" stroke="#151515" stroke-width="1.5" fill="#fff" stroke-linejoin="round" stroke-linecap="round" />
<path d="M741.9 271.2 L741.7 256.2 Q739.7 254.4 737.7 256.2 L737.4 266 L735.8 268.5" stroke="#151515" stroke-width="1.5" fill="#fff" stroke-linejoin="round" stroke-linecap="round" />
<line x1="646.00" y1="272.80" x2="767.00" y2="272.80" stroke="#3a3a3a" stroke-width="0.45" />
<line x1="698.20" y1="197.00" x2="698.20" y2="346.00" stroke="#3a3a3a" stroke-width="0.45" />
<path d="M728.80 305.50 L732.80 318.00 L741.60 342.20" stroke="#151515" stroke-width="1.2" fill="none" stroke-linejoin="round" stroke-linecap="round" />
<path d="M749.60 302.50 L750.30 314.00 L754.80 338.00" stroke="#151515" stroke-width="1.2" fill="none" stroke-linejoin="round" stroke-linecap="round" />
<line x1="732.80" y1="318.00" x2="750.30" y2="314.00" stroke="#151515" stroke-width="0.95" />
<line x1="738.80" y1="305.80" x2="747.00" y2="346.20" stroke="#3a3a3a" stroke-width="0.5" />
<line x1="734.50" y1="288.00" x2="748.60" y2="347.50" stroke="#3a3a3a" stroke-width="0.4" />
<path d="M741.30 342.00 L755.00 338.00 L755.30 344.40 L743.20 348.20 Z" stroke="#151515" stroke-width="0.95" fill="none" stroke-linejoin="round" stroke-linecap="round" />
<line x1="741.90" y1="344.40" x2="755.10" y2="340.40" stroke="#151515" stroke-width="0.6" />
<path d="M732.60 318.00 C732.17 318.67 730.47 320.50 730.00 322.00 C729.53 323.50 729.60 325.50 729.80 327.00 C730.00 328.50 730.42 329.67 731.20 331.00 C731.98 332.33 733.03 333.80 734.50 335.00 C735.97 336.20 739.08 337.67 740.00 338.20" stroke="#151515" stroke-width="0.95" fill="none" stroke-linejoin="round" stroke-linecap="round" />
<path d="M750.20 314.30 C750.92 314.83 753.37 316.22 754.50 317.50 C755.63 318.78 756.50 320.33 757.00 322.00 C757.50 323.67 757.67 325.92 757.50 327.50 C757.33 329.08 756.62 330.42 756.00 331.50 C755.38 332.58 754.17 333.58 753.80 334.00" stroke="#151515" stroke-width="0.95" fill="none" stroke-linejoin="round" stroke-linecap="round" />
<path d="M749.40 307.60 C749.92 307.22 751.35 305.85 752.50 305.30 C753.65 304.75 755.05 304.42 756.30 304.30 C757.55 304.18 758.92 304.23 760.00 304.60 C761.08 304.97 762.00 305.60 762.80 306.50 C763.60 307.40 764.20 308.67 764.80 310.00 C765.40 311.33 765.87 312.83 766.40 314.50 C766.93 316.17 767.73 319.08 768.00 320.00" stroke="#151515" stroke-width="0.95" fill="none" stroke-linejoin="round" stroke-linecap="round" />
<path d="M750.80 310.80 C751.25 310.43 752.55 309.15 753.50 308.60 C754.45 308.05 755.53 307.63 756.50 307.50 C757.47 307.37 758.50 307.47 759.30 307.80 C760.10 308.13 760.68 308.63 761.30 309.50 C761.92 310.37 762.52 311.75 763.00 313.00 C763.48 314.25 763.87 315.70 764.20 317.00 C764.53 318.30 764.87 320.17 765.00 320.80" stroke="#151515" stroke-width="0.95" fill="none" stroke-linejoin="round" stroke-linecap="round" />
<line x1="765.00" y1="320.80" x2="768.00" y2="320.00" stroke="#151515" stroke-width="0.95" />
<line x1="749.00" y1="348.00" x2="755.80" y2="374.50" stroke="#3a3a3a" stroke-width="0.55" />
<path d="M732.8 375.6 Q744.5 376.6 755.4 373" stroke="#3a3a3a" stroke-width="0.55" fill="none" stroke-linejoin="round" stroke-linecap="round" />
<path d="M732.80 375.60 L735.82 375.36 L735.76 376.26 Z" fill="#3a3a3a" stroke="none"/>
<path d="M755.40 373.00 L752.64 374.26 L752.39 373.39 Z" fill="#3a3a3a" stroke="none"/>
<text transform="translate(743.40 372.60) scale(0.76 1)" x="0" y="0" font-size="8" fill="#555" text-anchor="middle" letter-spacing="0.3" >15°</text>
</svg>
</body></html>
